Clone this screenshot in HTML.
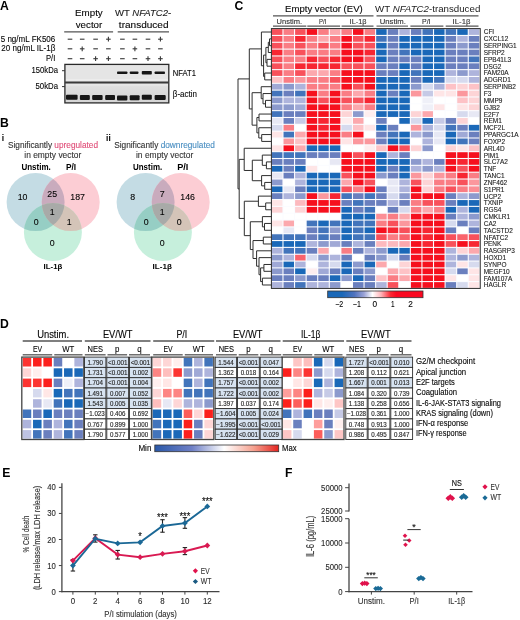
<!DOCTYPE html>
<html><head><meta charset="utf-8"><title>Figure</title>
<style>
html,body{margin:0;padding:0;background:#fff;}
body{width:520px;height:620px;overflow:hidden;}
svg{display:block;font-family:"Liberation Sans", sans-serif;will-change:transform;}
</style></head><body>
<svg width="520" height="620" viewBox="0 0 520 620">
<rect x="0" y="0" width="520" height="620" fill="#fff"/>
<text x="0.00" y="9.50" font-size="12.2" font-weight="bold" fill="#000">A</text>
<text x="88.90" y="16.20" font-size="9.5" text-anchor="middle" textLength="27.70" lengthAdjust="spacingAndGlyphs" stroke="#222" stroke-width="0.12">Empty</text>
<text x="89.00" y="28.10" font-size="9.5" text-anchor="middle" textLength="26.50" lengthAdjust="spacingAndGlyphs" stroke="#222" stroke-width="0.12">vector</text>
<text x="115" y="16.2" font-size="9.5" fill="#222" stroke="#222" stroke-width="0.12" textLength="56.2" lengthAdjust="spacingAndGlyphs">WT <tspan font-style="italic">NFATC2</tspan>-</text>
<text x="143.70" y="28.10" font-size="9.5" text-anchor="middle" textLength="49.70" lengthAdjust="spacingAndGlyphs" stroke="#222" stroke-width="0.12">transduced</text>
<line x1="64.20" y1="31.80" x2="113.10" y2="31.80" stroke="#555" stroke-width="1.2"/>
<line x1="117.70" y1="31.80" x2="169.00" y2="31.80" stroke="#555" stroke-width="1.2"/>
<text x="55.30" y="41.60" font-size="9.0" text-anchor="end" textLength="54.60" lengthAdjust="spacingAndGlyphs" stroke="#222" stroke-width="0.12">5 ng/mL FK506</text>
<text x="55.30" y="51.20" font-size="9.0" text-anchor="end" textLength="54.00" lengthAdjust="spacingAndGlyphs" stroke="#222" stroke-width="0.12">20 ng/mL IL-1β</text>
<text x="55.30" y="61.20" font-size="9.0" text-anchor="end" textLength="9.40" lengthAdjust="spacingAndGlyphs" stroke="#222" stroke-width="0.12">P/I</text>
<line x1="67.70" y1="39.20" x2="72.30" y2="39.20" stroke="#383838" stroke-width="1.1"/>
<line x1="79.90" y1="39.20" x2="84.50" y2="39.20" stroke="#383838" stroke-width="1.1"/>
<line x1="93.30" y1="39.20" x2="97.90" y2="39.20" stroke="#383838" stroke-width="1.1"/>
<line x1="106.10" y1="39.20" x2="110.70" y2="39.20" stroke="#383838" stroke-width="1.1"/>
<line x1="108.40" y1="36.80" x2="108.40" y2="41.60" stroke="#383838" stroke-width="1.1"/>
<line x1="120.10" y1="39.20" x2="124.70" y2="39.20" stroke="#383838" stroke-width="1.1"/>
<line x1="132.60" y1="39.20" x2="137.20" y2="39.20" stroke="#383838" stroke-width="1.1"/>
<line x1="145.70" y1="39.20" x2="150.30" y2="39.20" stroke="#383838" stroke-width="1.1"/>
<line x1="158.10" y1="39.20" x2="162.70" y2="39.20" stroke="#383838" stroke-width="1.1"/>
<line x1="160.40" y1="36.80" x2="160.40" y2="41.60" stroke="#383838" stroke-width="1.1"/>
<line x1="67.70" y1="48.80" x2="72.30" y2="48.80" stroke="#383838" stroke-width="1.1"/>
<line x1="79.90" y1="48.80" x2="84.50" y2="48.80" stroke="#383838" stroke-width="1.1"/>
<line x1="82.20" y1="46.40" x2="82.20" y2="51.20" stroke="#383838" stroke-width="1.1"/>
<line x1="93.30" y1="48.80" x2="97.90" y2="48.80" stroke="#383838" stroke-width="1.1"/>
<line x1="106.10" y1="48.80" x2="110.70" y2="48.80" stroke="#383838" stroke-width="1.1"/>
<line x1="120.10" y1="48.80" x2="124.70" y2="48.80" stroke="#383838" stroke-width="1.1"/>
<line x1="132.60" y1="48.80" x2="137.20" y2="48.80" stroke="#383838" stroke-width="1.1"/>
<line x1="134.90" y1="46.40" x2="134.90" y2="51.20" stroke="#383838" stroke-width="1.1"/>
<line x1="145.70" y1="48.80" x2="150.30" y2="48.80" stroke="#383838" stroke-width="1.1"/>
<line x1="158.10" y1="48.80" x2="162.70" y2="48.80" stroke="#383838" stroke-width="1.1"/>
<line x1="67.70" y1="58.70" x2="72.30" y2="58.70" stroke="#383838" stroke-width="1.1"/>
<line x1="79.90" y1="58.70" x2="84.50" y2="58.70" stroke="#383838" stroke-width="1.1"/>
<line x1="93.30" y1="58.70" x2="97.90" y2="58.70" stroke="#383838" stroke-width="1.1"/>
<line x1="95.60" y1="56.30" x2="95.60" y2="61.10" stroke="#383838" stroke-width="1.1"/>
<line x1="106.10" y1="58.70" x2="110.70" y2="58.70" stroke="#383838" stroke-width="1.1"/>
<line x1="108.40" y1="56.30" x2="108.40" y2="61.10" stroke="#383838" stroke-width="1.1"/>
<line x1="120.10" y1="58.70" x2="124.70" y2="58.70" stroke="#383838" stroke-width="1.1"/>
<line x1="132.60" y1="58.70" x2="137.20" y2="58.70" stroke="#383838" stroke-width="1.1"/>
<line x1="145.70" y1="58.70" x2="150.30" y2="58.70" stroke="#383838" stroke-width="1.1"/>
<line x1="148.00" y1="56.30" x2="148.00" y2="61.10" stroke="#383838" stroke-width="1.1"/>
<line x1="158.10" y1="58.70" x2="162.70" y2="58.70" stroke="#383838" stroke-width="1.1"/>
<line x1="160.40" y1="56.30" x2="160.40" y2="61.10" stroke="#383838" stroke-width="1.1"/>
<defs><filter id="bl" x="-20%" y="-50%" width="140%" height="200%"><feGaussianBlur stdDeviation="0.45"/></filter><linearGradient id="b2g" x1="0" x2="0" y1="0" y2="1"><stop offset="0" stop-color="#e2e2e2"/><stop offset="1" stop-color="#d4d4d4"/></linearGradient></defs>
<rect x="64.90" y="64.40" width="103.90" height="18.10" fill="#e5e5e5"/>
<rect x="64.90" y="82.50" width="103.90" height="20.40" fill="url(#b2g)"/>
<line x1="65.50" y1="79.90" x2="168.20" y2="79.90" stroke="#f1f1f1" stroke-width="1.0"/>
<line x1="65.50" y1="84.90" x2="168.20" y2="84.90" stroke="#ececec" stroke-width="1.0"/>
<rect x="64.90" y="64.40" width="103.90" height="38.50" fill="none" stroke="#2a2a2a" stroke-width="1.3"/>
<line x1="64.90" y1="82.50" x2="168.80" y2="82.50" stroke="#3a3a3a" stroke-width="2.0"/>
<g filter="url(#bl)">
<rect x="117.0" y="71.40" width="10.4" height="2.6" rx="0.8" fill="#151515"/>
<rect x="129.7" y="71.50" width="8.8" height="2.4" rx="0.8" fill="#151515"/>
<rect x="141.8" y="70.90" width="10.0" height="3.6" rx="0.8" fill="#151515"/>
<rect x="154.6" y="71.40" width="10.4" height="2.6" rx="0.8" fill="#151515"/>
<rect x="66.0" y="94.70" width="11.6" height="5.0" rx="1.0" fill="#141414"/>
<rect x="79.9" y="95.10" width="9.9" height="5.0" rx="1.0" fill="#141414"/>
<rect x="92.2" y="95.10" width="10.4" height="5.0" rx="1.0" fill="#141414"/>
<rect x="105.2" y="94.90" width="9.8" height="5.0" rx="1.0" fill="#141414"/>
<rect x="117.0" y="95.40" width="10.4" height="5.0" rx="1.0" fill="#141414"/>
<rect x="129.7" y="95.20" width="9.9" height="5.0" rx="1.0" fill="#141414"/>
<rect x="141.8" y="94.80" width="10.0" height="5.0" rx="1.0" fill="#141414"/>
<rect x="154.6" y="95.10" width="11.1" height="5.0" rx="1.0" fill="#141414"/>
</g>
<text x="58.00" y="72.90" font-size="8.4" text-anchor="end" textLength="26.40" lengthAdjust="spacingAndGlyphs" stroke="#222" stroke-width="0.12">150kDa</text>
<line x1="62.00" y1="70.70" x2="64.90" y2="70.70" stroke="#333" stroke-width="1.0"/>
<text x="58.00" y="88.50" font-size="8.4" text-anchor="end" textLength="22.50" lengthAdjust="spacingAndGlyphs" stroke="#222" stroke-width="0.12">50kDa</text>
<line x1="62.00" y1="86.60" x2="64.90" y2="86.60" stroke="#333" stroke-width="1.0"/>
<text x="172.80" y="75.80" font-size="8.4" textLength="23.20" lengthAdjust="spacingAndGlyphs" stroke="#222" stroke-width="0.12">NFAT1</text>
<text x="172.80" y="96.50" font-size="8.4" textLength="24.10" lengthAdjust="spacingAndGlyphs" stroke="#222" stroke-width="0.12">β-actin</text>
<text x="0.10" y="126.80" font-size="12.2" font-weight="bold" fill="#000">B</text>
<defs><clipPath id="vb0"><circle cx="35.6" cy="202.1" r="29.0"/></clipPath><clipPath id="vp0"><circle cx="70.7" cy="202.1" r="29.0"/></clipPath><clipPath id="vg0"><circle cx="52.9" cy="232.0" r="29.0"/></clipPath></defs>
<circle cx="35.6" cy="202.1" r="29.0" fill="#c4dce4"/>
<circle cx="70.7" cy="202.1" r="29.0" fill="#fccdd4"/>
<circle cx="52.9" cy="232.0" r="29.0" fill="#c6efdc"/>
<g clip-path="url(#vb0)"><circle cx="70.7" cy="202.1" r="29.0" fill="#c9abbd"/><circle cx="52.9" cy="232.0" r="29.0" fill="#96cec4"/></g>
<g clip-path="url(#vp0)"><circle cx="52.9" cy="232.0" r="29.0" fill="#d4c4b8"/></g>
<g clip-path="url(#vb0)"><g clip-path="url(#vp0)"><circle cx="52.9" cy="232.0" r="29.0" fill="#a8aaa8"/></g></g>
<text x="22.60" y="199.90" font-size="8.8" text-anchor="middle" stroke="#222" stroke-width="0.12">10</text>
<text x="52.20" y="197.00" font-size="8.8" text-anchor="middle" stroke="#222" stroke-width="0.12">25</text>
<text x="77.60" y="199.90" font-size="8.8" text-anchor="middle" stroke="#222" stroke-width="0.12">187</text>
<text x="52.20" y="214.80" font-size="8.8" text-anchor="middle" stroke="#222" stroke-width="0.12">1</text>
<text x="36.10" y="224.70" font-size="8.8" text-anchor="middle" stroke="#222" stroke-width="0.12">0</text>
<text x="69.10" y="224.70" font-size="8.8" text-anchor="middle" stroke="#222" stroke-width="0.12">1</text>
<text x="52.20" y="246.40" font-size="8.8" text-anchor="middle" stroke="#222" stroke-width="0.12">0</text>
<defs><clipPath id="vb1"><circle cx="145.6" cy="202.1" r="29.0"/></clipPath><clipPath id="vp1"><circle cx="180.7" cy="202.1" r="29.0"/></clipPath><clipPath id="vg1"><circle cx="162.9" cy="232.0" r="29.0"/></clipPath></defs>
<circle cx="145.6" cy="202.1" r="29.0" fill="#c4dce4"/>
<circle cx="180.7" cy="202.1" r="29.0" fill="#fccdd4"/>
<circle cx="162.9" cy="232.0" r="29.0" fill="#c6efdc"/>
<g clip-path="url(#vb1)"><circle cx="180.7" cy="202.1" r="29.0" fill="#c9abbd"/><circle cx="162.9" cy="232.0" r="29.0" fill="#96cec4"/></g>
<g clip-path="url(#vp1)"><circle cx="162.9" cy="232.0" r="29.0" fill="#d4c4b8"/></g>
<g clip-path="url(#vb1)"><g clip-path="url(#vp1)"><circle cx="162.9" cy="232.0" r="29.0" fill="#a8aaa8"/></g></g>
<text x="132.60" y="199.90" font-size="8.8" text-anchor="middle" stroke="#222" stroke-width="0.12">8</text>
<text x="162.20" y="197.00" font-size="8.8" text-anchor="middle" stroke="#222" stroke-width="0.12">7</text>
<text x="187.60" y="199.90" font-size="8.8" text-anchor="middle" stroke="#222" stroke-width="0.12">146</text>
<text x="162.20" y="214.80" font-size="8.8" text-anchor="middle" stroke="#222" stroke-width="0.12">1</text>
<text x="146.10" y="224.70" font-size="8.8" text-anchor="middle" stroke="#222" stroke-width="0.12">0</text>
<text x="179.10" y="224.70" font-size="8.8" text-anchor="middle" stroke="#222" stroke-width="0.12">0</text>
<text x="162.20" y="246.40" font-size="8.8" text-anchor="middle" stroke="#222" stroke-width="0.12">0</text>
<text x="1.80" y="141.00" font-size="8.5" font-weight="bold">i</text>
<text x="106.10" y="141.00" font-size="8.5" font-weight="bold" textLength="4.60" lengthAdjust="spacingAndGlyphs">ii</text>
<text x="8" y="148.1" font-size="9.0" fill="#333" stroke="#333" stroke-width="0.12" textLength="90" lengthAdjust="spacingAndGlyphs">Significantly <tspan fill="#e04d78" stroke="#e04d78">upregulated</tspan></text>
<text x="52.80" y="157.80" font-size="9.0" text-anchor="middle" fill="#333" textLength="57.00" lengthAdjust="spacingAndGlyphs" stroke="#333" stroke-width="0.12">in empty vector</text>
<text x="114.2" y="148.1" font-size="9.0" fill="#333" stroke="#333" stroke-width="0.12" textLength="100.7" lengthAdjust="spacingAndGlyphs">Significantly <tspan fill="#4a8fc2" stroke="#4a8fc2">downregulated</tspan></text>
<text x="164.60" y="157.80" font-size="9.0" text-anchor="middle" fill="#333" textLength="57.20" lengthAdjust="spacingAndGlyphs" stroke="#333" stroke-width="0.12">in empty vector</text>
<text x="21.40" y="169.60" font-size="8.4" font-weight="bold" textLength="29.40" lengthAdjust="spacingAndGlyphs">Unstim.</text>
<text x="66.00" y="169.60" font-size="8.4" font-weight="bold" textLength="10.20" lengthAdjust="spacingAndGlyphs">P/I</text>
<text x="133.00" y="169.60" font-size="8.4" font-weight="bold" textLength="29.20" lengthAdjust="spacingAndGlyphs">Unstim.</text>
<text x="177.20" y="169.60" font-size="8.4" font-weight="bold" textLength="11.20" lengthAdjust="spacingAndGlyphs">P/I</text>
<text x="43.60" y="269.30" font-size="7.9" font-weight="bold" textLength="18.80" lengthAdjust="spacingAndGlyphs">IL-1β</text>
<text x="152.60" y="269.30" font-size="7.9" font-weight="bold" textLength="19.40" lengthAdjust="spacingAndGlyphs">IL-1β</text>
<text x="234.40" y="9.60" font-size="12.2" font-weight="bold" fill="#000">C</text>
<text x="285.10" y="12.40" font-size="9.0" textLength="77.60" lengthAdjust="spacingAndGlyphs" stroke="#222" stroke-width="0.12">Empty vector (EV)</text>
<text x="375" y="12.4" font-size="9.0" fill="#222" textLength="105.3" lengthAdjust="spacingAndGlyphs">WT <tspan font-style="italic">NFATC2</tspan>-transduced</text>
<line x1="273.00" y1="15.90" x2="373.50" y2="15.90" stroke="#555" stroke-width="1.2"/>
<line x1="376.50" y1="15.90" x2="478.50" y2="15.90" stroke="#555" stroke-width="1.2"/>
<text x="276.60" y="23.60" font-size="7.0" fill="#333" textLength="25.40" lengthAdjust="spacingAndGlyphs" stroke="#333" stroke-width="0.12">Unstim.</text>
<text x="319.00" y="23.60" font-size="7.0" fill="#333" textLength="7.30" lengthAdjust="spacingAndGlyphs" stroke="#333" stroke-width="0.12">P/I</text>
<text x="349.60" y="23.60" font-size="7.0" fill="#333" textLength="16.90" lengthAdjust="spacingAndGlyphs" stroke="#333" stroke-width="0.12">IL-1β</text>
<text x="379.70" y="23.60" font-size="7.0" fill="#333" textLength="26.10" lengthAdjust="spacingAndGlyphs" stroke="#333" stroke-width="0.12">Unstim.</text>
<text x="422.00" y="23.60" font-size="7.0" fill="#333" textLength="8.50" lengthAdjust="spacingAndGlyphs" stroke="#333" stroke-width="0.12">P/I</text>
<text x="452.60" y="23.60" font-size="7.0" fill="#333" textLength="17.80" lengthAdjust="spacingAndGlyphs" stroke="#333" stroke-width="0.12">IL-1β</text>
<line x1="273.00" y1="26.10" x2="306.30" y2="26.10" stroke="#555" stroke-width="1.1"/>
<line x1="307.30" y1="26.10" x2="340.10" y2="26.10" stroke="#555" stroke-width="1.1"/>
<line x1="341.60" y1="26.10" x2="373.50" y2="26.10" stroke="#555" stroke-width="1.1"/>
<line x1="376.50" y1="26.10" x2="408.00" y2="26.10" stroke="#555" stroke-width="1.1"/>
<line x1="410.40" y1="26.10" x2="443.40" y2="26.10" stroke="#555" stroke-width="1.1"/>
<line x1="445.70" y1="26.10" x2="478.50" y2="26.10" stroke="#555" stroke-width="1.1"/>
<rect x="271.40" y="28.60" width="208.44" height="259.81" fill="#fbfcff"/>
<rect x="271.95" y="29.15" width="10.48" height="5.74" fill="#f8515b"/>
<rect x="283.53" y="29.15" width="10.48" height="5.74" fill="#fa7d84"/>
<rect x="295.11" y="29.15" width="10.48" height="5.74" fill="#f8515b"/>
<rect x="306.69" y="29.15" width="10.48" height="5.74" fill="#f6101e"/>
<rect x="318.27" y="29.15" width="10.48" height="5.74" fill="#fa7d84"/>
<rect x="329.85" y="29.15" width="10.48" height="5.74" fill="#fca8ad"/>
<rect x="341.43" y="29.15" width="10.48" height="5.74" fill="#fa7d84"/>
<rect x="353.01" y="29.15" width="10.48" height="5.74" fill="#f6101e"/>
<rect x="364.59" y="29.15" width="10.48" height="5.74" fill="#fa7d84"/>
<rect x="376.17" y="29.15" width="10.48" height="5.74" fill="#1a68b8"/>
<rect x="387.75" y="29.15" width="10.48" height="5.74" fill="#6a7fbe"/>
<rect x="399.33" y="29.15" width="10.48" height="5.74" fill="#aeb4dc"/>
<rect x="410.91" y="29.15" width="10.48" height="5.74" fill="#6a7fbe"/>
<rect x="422.49" y="29.15" width="10.48" height="5.74" fill="#4274bb"/>
<rect x="434.07" y="29.15" width="10.48" height="5.74" fill="#1a68b8"/>
<rect x="445.65" y="29.15" width="10.48" height="5.74" fill="#4274bb"/>
<rect x="457.23" y="29.15" width="10.48" height="5.74" fill="#1a68b8"/>
<rect x="468.81" y="29.15" width="10.48" height="5.74" fill="#aeb4dc"/>
<rect x="271.95" y="35.99" width="10.48" height="5.74" fill="#f8515b"/>
<rect x="283.53" y="35.99" width="10.48" height="5.74" fill="#fa7d84"/>
<rect x="295.11" y="35.99" width="10.48" height="5.74" fill="#f72632"/>
<rect x="306.69" y="35.99" width="10.48" height="5.74" fill="#fa7d84"/>
<rect x="318.27" y="35.99" width="10.48" height="5.74" fill="#fca8ad"/>
<rect x="329.85" y="35.99" width="10.48" height="5.74" fill="#fa7d84"/>
<rect x="341.43" y="35.99" width="10.48" height="5.74" fill="#f6101e"/>
<rect x="353.01" y="35.99" width="10.48" height="5.74" fill="#f8515b"/>
<rect x="364.59" y="35.99" width="10.48" height="5.74" fill="#f72632"/>
<rect x="376.17" y="35.99" width="10.48" height="5.74" fill="#4274bb"/>
<rect x="387.75" y="35.99" width="10.48" height="5.74" fill="#6a7fbe"/>
<rect x="399.33" y="35.99" width="10.48" height="5.74" fill="#1a68b8"/>
<rect x="410.91" y="35.99" width="10.48" height="5.74" fill="#1a68b8"/>
<rect x="422.49" y="35.99" width="10.48" height="5.74" fill="#1a68b8"/>
<rect x="434.07" y="35.99" width="10.48" height="5.74" fill="#1a68b8"/>
<rect x="445.65" y="35.99" width="10.48" height="5.74" fill="#6a7fbe"/>
<rect x="457.23" y="35.99" width="10.48" height="5.74" fill="#aeb4dc"/>
<rect x="468.81" y="35.99" width="10.48" height="5.74" fill="#6a7fbe"/>
<rect x="271.95" y="42.82" width="10.48" height="5.74" fill="#f8515b"/>
<rect x="283.53" y="42.82" width="10.48" height="5.74" fill="#fa7d84"/>
<rect x="295.11" y="42.82" width="10.48" height="5.74" fill="#f8515b"/>
<rect x="306.69" y="42.82" width="10.48" height="5.74" fill="#fa7d84"/>
<rect x="318.27" y="42.82" width="10.48" height="5.74" fill="#f8515b"/>
<rect x="329.85" y="42.82" width="10.48" height="5.74" fill="#fa7d84"/>
<rect x="341.43" y="42.82" width="10.48" height="5.74" fill="#f6101e"/>
<rect x="353.01" y="42.82" width="10.48" height="5.74" fill="#f8515b"/>
<rect x="364.59" y="42.82" width="10.48" height="5.74" fill="#f8515b"/>
<rect x="376.17" y="42.82" width="10.48" height="5.74" fill="#1a68b8"/>
<rect x="387.75" y="42.82" width="10.48" height="5.74" fill="#6a7fbe"/>
<rect x="399.33" y="42.82" width="10.48" height="5.74" fill="#1a68b8"/>
<rect x="410.91" y="42.82" width="10.48" height="5.74" fill="#1a68b8"/>
<rect x="422.49" y="42.82" width="10.48" height="5.74" fill="#1a68b8"/>
<rect x="434.07" y="42.82" width="10.48" height="5.74" fill="#1a68b8"/>
<rect x="445.65" y="42.82" width="10.48" height="5.74" fill="#6a7fbe"/>
<rect x="457.23" y="42.82" width="10.48" height="5.74" fill="#8c9acd"/>
<rect x="468.81" y="42.82" width="10.48" height="5.74" fill="#6a7fbe"/>
<rect x="271.95" y="49.66" width="10.48" height="5.74" fill="#f72632"/>
<rect x="283.53" y="49.66" width="10.48" height="5.74" fill="#fa7d84"/>
<rect x="295.11" y="49.66" width="10.48" height="5.74" fill="#f8515b"/>
<rect x="306.69" y="49.66" width="10.48" height="5.74" fill="#fa7d84"/>
<rect x="318.27" y="49.66" width="10.48" height="5.74" fill="#fa7d84"/>
<rect x="329.85" y="49.66" width="10.48" height="5.74" fill="#fa7d84"/>
<rect x="341.43" y="49.66" width="10.48" height="5.74" fill="#f6101e"/>
<rect x="353.01" y="49.66" width="10.48" height="5.74" fill="#f6101e"/>
<rect x="364.59" y="49.66" width="10.48" height="5.74" fill="#f72632"/>
<rect x="376.17" y="49.66" width="10.48" height="5.74" fill="#1a68b8"/>
<rect x="387.75" y="49.66" width="10.48" height="5.74" fill="#6a7fbe"/>
<rect x="399.33" y="49.66" width="10.48" height="5.74" fill="#4274bb"/>
<rect x="410.91" y="49.66" width="10.48" height="5.74" fill="#1a68b8"/>
<rect x="422.49" y="49.66" width="10.48" height="5.74" fill="#1a68b8"/>
<rect x="434.07" y="49.66" width="10.48" height="5.74" fill="#1a68b8"/>
<rect x="445.65" y="49.66" width="10.48" height="5.74" fill="#6a7fbe"/>
<rect x="457.23" y="49.66" width="10.48" height="5.74" fill="#6a7fbe"/>
<rect x="468.81" y="49.66" width="10.48" height="5.74" fill="#6a7fbe"/>
<rect x="271.95" y="56.50" width="10.48" height="5.74" fill="#f8515b"/>
<rect x="283.53" y="56.50" width="10.48" height="5.74" fill="#fa7d84"/>
<rect x="295.11" y="56.50" width="10.48" height="5.74" fill="#fa7d84"/>
<rect x="306.69" y="56.50" width="10.48" height="5.74" fill="#f72632"/>
<rect x="318.27" y="56.50" width="10.48" height="5.74" fill="#f8515b"/>
<rect x="329.85" y="56.50" width="10.48" height="5.74" fill="#f72632"/>
<rect x="341.43" y="56.50" width="10.48" height="5.74" fill="#f6101e"/>
<rect x="353.01" y="56.50" width="10.48" height="5.74" fill="#f6101e"/>
<rect x="364.59" y="56.50" width="10.48" height="5.74" fill="#f8515b"/>
<rect x="376.17" y="56.50" width="10.48" height="5.74" fill="#1a68b8"/>
<rect x="387.75" y="56.50" width="10.48" height="5.74" fill="#6a7fbe"/>
<rect x="399.33" y="56.50" width="10.48" height="5.74" fill="#6a7fbe"/>
<rect x="410.91" y="56.50" width="10.48" height="5.74" fill="#6a7fbe"/>
<rect x="422.49" y="56.50" width="10.48" height="5.74" fill="#1a68b8"/>
<rect x="434.07" y="56.50" width="10.48" height="5.74" fill="#1a68b8"/>
<rect x="445.65" y="56.50" width="10.48" height="5.74" fill="#6a7fbe"/>
<rect x="457.23" y="56.50" width="10.48" height="5.74" fill="#6a7fbe"/>
<rect x="468.81" y="56.50" width="10.48" height="5.74" fill="#4274bb"/>
<rect x="271.95" y="63.34" width="10.48" height="5.74" fill="#f8515b"/>
<rect x="283.53" y="63.34" width="10.48" height="5.74" fill="#fa7d84"/>
<rect x="295.11" y="63.34" width="10.48" height="5.74" fill="#f72632"/>
<rect x="306.69" y="63.34" width="10.48" height="5.74" fill="#f72632"/>
<rect x="318.27" y="63.34" width="10.48" height="5.74" fill="#f72632"/>
<rect x="329.85" y="63.34" width="10.48" height="5.74" fill="#f72632"/>
<rect x="341.43" y="63.34" width="10.48" height="5.74" fill="#f8515b"/>
<rect x="353.01" y="63.34" width="10.48" height="5.74" fill="#f8515b"/>
<rect x="364.59" y="63.34" width="10.48" height="5.74" fill="#f8515b"/>
<rect x="376.17" y="63.34" width="10.48" height="5.74" fill="#6a7fbe"/>
<rect x="387.75" y="63.34" width="10.48" height="5.74" fill="#6a7fbe"/>
<rect x="399.33" y="63.34" width="10.48" height="5.74" fill="#1a68b8"/>
<rect x="410.91" y="63.34" width="10.48" height="5.74" fill="#6a7fbe"/>
<rect x="422.49" y="63.34" width="10.48" height="5.74" fill="#1a68b8"/>
<rect x="434.07" y="63.34" width="10.48" height="5.74" fill="#1a68b8"/>
<rect x="445.65" y="63.34" width="10.48" height="5.74" fill="#6a7fbe"/>
<rect x="457.23" y="63.34" width="10.48" height="5.74" fill="#6a7fbe"/>
<rect x="468.81" y="63.34" width="10.48" height="5.74" fill="#6a7fbe"/>
<rect x="271.95" y="70.17" width="10.48" height="5.74" fill="#f8515b"/>
<rect x="283.53" y="70.17" width="10.48" height="5.74" fill="#fa7d84"/>
<rect x="295.11" y="70.17" width="10.48" height="5.74" fill="#f8515b"/>
<rect x="306.69" y="70.17" width="10.48" height="5.74" fill="#fca8ad"/>
<rect x="318.27" y="70.17" width="10.48" height="5.74" fill="#fca8ad"/>
<rect x="329.85" y="70.17" width="10.48" height="5.74" fill="#fa7d84"/>
<rect x="341.43" y="70.17" width="10.48" height="5.74" fill="#f6101e"/>
<rect x="353.01" y="70.17" width="10.48" height="5.74" fill="#f6101e"/>
<rect x="364.59" y="70.17" width="10.48" height="5.74" fill="#f6101e"/>
<rect x="376.17" y="70.17" width="10.48" height="5.74" fill="#6a7fbe"/>
<rect x="387.75" y="70.17" width="10.48" height="5.74" fill="#6a7fbe"/>
<rect x="399.33" y="70.17" width="10.48" height="5.74" fill="#1a68b8"/>
<rect x="410.91" y="70.17" width="10.48" height="5.74" fill="#4274bb"/>
<rect x="422.49" y="70.17" width="10.48" height="5.74" fill="#1a68b8"/>
<rect x="434.07" y="70.17" width="10.48" height="5.74" fill="#1a68b8"/>
<rect x="445.65" y="70.17" width="10.48" height="5.74" fill="#aeb4dc"/>
<rect x="457.23" y="70.17" width="10.48" height="5.74" fill="#8c9acd"/>
<rect x="468.81" y="70.17" width="10.48" height="5.74" fill="#aeb4dc"/>
<rect x="271.95" y="77.01" width="10.48" height="5.74" fill="#fdc2c6"/>
<rect x="283.53" y="77.01" width="10.48" height="5.74" fill="#fa7d84"/>
<rect x="295.11" y="77.01" width="10.48" height="5.74" fill="#fb979d"/>
<rect x="306.69" y="77.01" width="10.48" height="5.74" fill="#fa7d84"/>
<rect x="318.27" y="77.01" width="10.48" height="5.74" fill="#fa7d84"/>
<rect x="329.85" y="77.01" width="10.48" height="5.74" fill="#f8515b"/>
<rect x="341.43" y="77.01" width="10.48" height="5.74" fill="#f6101e"/>
<rect x="353.01" y="77.01" width="10.48" height="5.74" fill="#f6101e"/>
<rect x="364.59" y="77.01" width="10.48" height="5.74" fill="#f6101e"/>
<rect x="376.17" y="77.01" width="10.48" height="5.74" fill="#1a68b8"/>
<rect x="387.75" y="77.01" width="10.48" height="5.74" fill="#1a68b8"/>
<rect x="399.33" y="77.01" width="10.48" height="5.74" fill="#1a68b8"/>
<rect x="410.91" y="77.01" width="10.48" height="5.74" fill="#6a7fbe"/>
<rect x="422.49" y="77.01" width="10.48" height="5.74" fill="#1a68b8"/>
<rect x="434.07" y="77.01" width="10.48" height="5.74" fill="#4274bb"/>
<rect x="445.65" y="77.01" width="10.48" height="5.74" fill="#d6daee"/>
<rect x="457.23" y="77.01" width="10.48" height="5.74" fill="#d6daee"/>
<rect x="468.81" y="77.01" width="10.48" height="5.74" fill="#aeb4dc"/>
<rect x="271.95" y="83.85" width="10.48" height="5.74" fill="#a0a9d6"/>
<rect x="283.53" y="83.85" width="10.48" height="5.74" fill="#8c9acd"/>
<rect x="295.11" y="83.85" width="10.48" height="5.74" fill="#aeb4dc"/>
<rect x="306.69" y="83.85" width="10.48" height="5.74" fill="#fa7d84"/>
<rect x="318.27" y="83.85" width="10.48" height="5.74" fill="#fa7d84"/>
<rect x="329.85" y="83.85" width="10.48" height="5.74" fill="#fa7d84"/>
<rect x="341.43" y="83.85" width="10.48" height="5.74" fill="#f6101e"/>
<rect x="353.01" y="83.85" width="10.48" height="5.74" fill="#f8515b"/>
<rect x="364.59" y="83.85" width="10.48" height="5.74" fill="#f6101e"/>
<rect x="376.17" y="83.85" width="10.48" height="5.74" fill="#1a68b8"/>
<rect x="387.75" y="83.85" width="10.48" height="5.74" fill="#1a68b8"/>
<rect x="399.33" y="83.85" width="10.48" height="5.74" fill="#1a68b8"/>
<rect x="410.91" y="83.85" width="10.48" height="5.74" fill="#8c9acd"/>
<rect x="422.49" y="83.85" width="10.48" height="5.74" fill="#d6daee"/>
<rect x="434.07" y="83.85" width="10.48" height="5.74" fill="#aeb4dc"/>
<rect x="445.65" y="83.85" width="10.48" height="5.74" fill="#fdc2c6"/>
<rect x="457.23" y="83.85" width="10.48" height="5.74" fill="#fdd4d6"/>
<rect x="468.81" y="83.85" width="10.48" height="5.74" fill="#fdc2c6"/>
<rect x="271.95" y="90.68" width="10.48" height="5.74" fill="#4274bb"/>
<rect x="283.53" y="90.68" width="10.48" height="5.74" fill="#6a7fbe"/>
<rect x="295.11" y="90.68" width="10.48" height="5.74" fill="#4274bb"/>
<rect x="306.69" y="90.68" width="10.48" height="5.74" fill="#f6101e"/>
<rect x="318.27" y="90.68" width="10.48" height="5.74" fill="#fa7d84"/>
<rect x="329.85" y="90.68" width="10.48" height="5.74" fill="#f6101e"/>
<rect x="341.43" y="90.68" width="10.48" height="5.74" fill="#fa7d84"/>
<rect x="353.01" y="90.68" width="10.48" height="5.74" fill="#fca8ad"/>
<rect x="364.59" y="90.68" width="10.48" height="5.74" fill="#fa7d84"/>
<rect x="376.17" y="90.68" width="10.48" height="5.74" fill="#1a68b8"/>
<rect x="387.75" y="90.68" width="10.48" height="5.74" fill="#6a7fbe"/>
<rect x="399.33" y="90.68" width="10.48" height="5.74" fill="#1a68b8"/>
<rect x="410.91" y="90.68" width="10.48" height="5.74" fill="#fb979d"/>
<rect x="422.49" y="90.68" width="10.48" height="5.74" fill="#c6cae6"/>
<rect x="434.07" y="90.68" width="10.48" height="5.74" fill="#fee5e6"/>
<rect x="445.65" y="90.68" width="10.48" height="5.74" fill="#fee5e6"/>
<rect x="457.23" y="90.68" width="10.48" height="5.74" fill="#fb979d"/>
<rect x="468.81" y="90.68" width="10.48" height="5.74" fill="#fdd4d6"/>
<rect x="271.95" y="97.52" width="10.48" height="5.74" fill="#8c9acd"/>
<rect x="283.53" y="97.52" width="10.48" height="5.74" fill="#aeb4dc"/>
<rect x="295.11" y="97.52" width="10.48" height="5.74" fill="#aeb4dc"/>
<rect x="306.69" y="97.52" width="10.48" height="5.74" fill="#f6101e"/>
<rect x="318.27" y="97.52" width="10.48" height="5.74" fill="#f8515b"/>
<rect x="329.85" y="97.52" width="10.48" height="5.74" fill="#f6101e"/>
<rect x="341.43" y="97.52" width="10.48" height="5.74" fill="#f8515b"/>
<rect x="353.01" y="97.52" width="10.48" height="5.74" fill="#f8515b"/>
<rect x="364.59" y="97.52" width="10.48" height="5.74" fill="#f72632"/>
<rect x="376.17" y="97.52" width="10.48" height="5.74" fill="#1a68b8"/>
<rect x="387.75" y="97.52" width="10.48" height="5.74" fill="#1a68b8"/>
<rect x="399.33" y="97.52" width="10.48" height="5.74" fill="#1a68b8"/>
<rect x="410.91" y="97.52" width="10.48" height="5.74" fill="#ffffff"/>
<rect x="422.49" y="97.52" width="10.48" height="5.74" fill="#eff0f8"/>
<rect x="434.07" y="97.52" width="10.48" height="5.74" fill="#ffffff"/>
<rect x="445.65" y="97.52" width="10.48" height="5.74" fill="#ffffff"/>
<rect x="457.23" y="97.52" width="10.48" height="5.74" fill="#fdc2c6"/>
<rect x="468.81" y="97.52" width="10.48" height="5.74" fill="#fdd4d6"/>
<rect x="271.95" y="104.36" width="10.48" height="5.74" fill="#8c9acd"/>
<rect x="283.53" y="104.36" width="10.48" height="5.74" fill="#8c9acd"/>
<rect x="295.11" y="104.36" width="10.48" height="5.74" fill="#a0a9d6"/>
<rect x="306.69" y="104.36" width="10.48" height="5.74" fill="#f6101e"/>
<rect x="318.27" y="104.36" width="10.48" height="5.74" fill="#f6101e"/>
<rect x="329.85" y="104.36" width="10.48" height="5.74" fill="#f6101e"/>
<rect x="341.43" y="104.36" width="10.48" height="5.74" fill="#fa7d84"/>
<rect x="353.01" y="104.36" width="10.48" height="5.74" fill="#fca8ad"/>
<rect x="364.59" y="104.36" width="10.48" height="5.74" fill="#fa7d84"/>
<rect x="376.17" y="104.36" width="10.48" height="5.74" fill="#1a68b8"/>
<rect x="387.75" y="104.36" width="10.48" height="5.74" fill="#1a68b8"/>
<rect x="399.33" y="104.36" width="10.48" height="5.74" fill="#1a68b8"/>
<rect x="410.91" y="104.36" width="10.48" height="5.74" fill="#ffffff"/>
<rect x="422.49" y="104.36" width="10.48" height="5.74" fill="#eff0f8"/>
<rect x="434.07" y="104.36" width="10.48" height="5.74" fill="#fee5e6"/>
<rect x="445.65" y="104.36" width="10.48" height="5.74" fill="#ffffff"/>
<rect x="457.23" y="104.36" width="10.48" height="5.74" fill="#fee5e6"/>
<rect x="468.81" y="104.36" width="10.48" height="5.74" fill="#fdd4d6"/>
<rect x="271.95" y="111.19" width="10.48" height="5.74" fill="#4274bb"/>
<rect x="283.53" y="111.19" width="10.48" height="5.74" fill="#6a7fbe"/>
<rect x="295.11" y="111.19" width="10.48" height="5.74" fill="#6a7fbe"/>
<rect x="306.69" y="111.19" width="10.48" height="5.74" fill="#f6101e"/>
<rect x="318.27" y="111.19" width="10.48" height="5.74" fill="#f6101e"/>
<rect x="329.85" y="111.19" width="10.48" height="5.74" fill="#f6101e"/>
<rect x="341.43" y="111.19" width="10.48" height="5.74" fill="#fdd4d6"/>
<rect x="353.01" y="111.19" width="10.48" height="5.74" fill="#8c9acd"/>
<rect x="364.59" y="111.19" width="10.48" height="5.74" fill="#feeeef"/>
<rect x="376.17" y="111.19" width="10.48" height="5.74" fill="#1a68b8"/>
<rect x="387.75" y="111.19" width="10.48" height="5.74" fill="#1a68b8"/>
<rect x="399.33" y="111.19" width="10.48" height="5.74" fill="#1a68b8"/>
<rect x="410.91" y="111.19" width="10.48" height="5.74" fill="#fdd4d6"/>
<rect x="422.49" y="111.19" width="10.48" height="5.74" fill="#fca8ad"/>
<rect x="434.07" y="111.19" width="10.48" height="5.74" fill="#ffffff"/>
<rect x="445.65" y="111.19" width="10.48" height="5.74" fill="#ffffff"/>
<rect x="457.23" y="111.19" width="10.48" height="5.74" fill="#d6daee"/>
<rect x="468.81" y="111.19" width="10.48" height="5.74" fill="#e7e8f4"/>
<rect x="271.95" y="118.03" width="10.48" height="5.74" fill="#e7e8f4"/>
<rect x="283.53" y="118.03" width="10.48" height="5.74" fill="#6a7fbe"/>
<rect x="295.11" y="118.03" width="10.48" height="5.74" fill="#c6cae6"/>
<rect x="306.69" y="118.03" width="10.48" height="5.74" fill="#f6101e"/>
<rect x="318.27" y="118.03" width="10.48" height="5.74" fill="#f72632"/>
<rect x="329.85" y="118.03" width="10.48" height="5.74" fill="#f6101e"/>
<rect x="341.43" y="118.03" width="10.48" height="5.74" fill="#feeeef"/>
<rect x="353.01" y="118.03" width="10.48" height="5.74" fill="#fca8ad"/>
<rect x="364.59" y="118.03" width="10.48" height="5.74" fill="#ffffff"/>
<rect x="376.17" y="118.03" width="10.48" height="5.74" fill="#6a7fbe"/>
<rect x="387.75" y="118.03" width="10.48" height="5.74" fill="#ffffff"/>
<rect x="399.33" y="118.03" width="10.48" height="5.74" fill="#1a68b8"/>
<rect x="410.91" y="118.03" width="10.48" height="5.74" fill="#d6daee"/>
<rect x="422.49" y="118.03" width="10.48" height="5.74" fill="#1a68b8"/>
<rect x="434.07" y="118.03" width="10.48" height="5.74" fill="#c6cae6"/>
<rect x="445.65" y="118.03" width="10.48" height="5.74" fill="#6a7fbe"/>
<rect x="457.23" y="118.03" width="10.48" height="5.74" fill="#fdd4d6"/>
<rect x="468.81" y="118.03" width="10.48" height="5.74" fill="#ffffff"/>
<rect x="271.95" y="124.87" width="10.48" height="5.74" fill="#d6daee"/>
<rect x="283.53" y="124.87" width="10.48" height="5.74" fill="#fa7d84"/>
<rect x="295.11" y="124.87" width="10.48" height="5.74" fill="#ffffff"/>
<rect x="306.69" y="124.87" width="10.48" height="5.74" fill="#f6101e"/>
<rect x="318.27" y="124.87" width="10.48" height="5.74" fill="#f72632"/>
<rect x="329.85" y="124.87" width="10.48" height="5.74" fill="#f6101e"/>
<rect x="341.43" y="124.87" width="10.48" height="5.74" fill="#d6daee"/>
<rect x="353.01" y="124.87" width="10.48" height="5.74" fill="#fdc2c6"/>
<rect x="364.59" y="124.87" width="10.48" height="5.74" fill="#fee5e6"/>
<rect x="376.17" y="124.87" width="10.48" height="5.74" fill="#1a68b8"/>
<rect x="387.75" y="124.87" width="10.48" height="5.74" fill="#6a7fbe"/>
<rect x="399.33" y="124.87" width="10.48" height="5.74" fill="#ffffff"/>
<rect x="410.91" y="124.87" width="10.48" height="5.74" fill="#fb979d"/>
<rect x="422.49" y="124.87" width="10.48" height="5.74" fill="#aeb4dc"/>
<rect x="434.07" y="124.87" width="10.48" height="5.74" fill="#d6daee"/>
<rect x="445.65" y="124.87" width="10.48" height="5.74" fill="#4274bb"/>
<rect x="457.23" y="124.87" width="10.48" height="5.74" fill="#6a7fbe"/>
<rect x="468.81" y="124.87" width="10.48" height="5.74" fill="#1a68b8"/>
<rect x="271.95" y="131.71" width="10.48" height="5.74" fill="#fee5e6"/>
<rect x="283.53" y="131.71" width="10.48" height="5.74" fill="#4274bb"/>
<rect x="295.11" y="131.71" width="10.48" height="5.74" fill="#fca8ad"/>
<rect x="306.69" y="131.71" width="10.48" height="5.74" fill="#f6101e"/>
<rect x="318.27" y="131.71" width="10.48" height="5.74" fill="#f6101e"/>
<rect x="329.85" y="131.71" width="10.48" height="5.74" fill="#f6101e"/>
<rect x="341.43" y="131.71" width="10.48" height="5.74" fill="#fa7d84"/>
<rect x="353.01" y="131.71" width="10.48" height="5.74" fill="#f6101e"/>
<rect x="364.59" y="131.71" width="10.48" height="5.74" fill="#ffffff"/>
<rect x="376.17" y="131.71" width="10.48" height="5.74" fill="#6a7fbe"/>
<rect x="387.75" y="131.71" width="10.48" height="5.74" fill="#4274bb"/>
<rect x="399.33" y="131.71" width="10.48" height="5.74" fill="#1a68b8"/>
<rect x="410.91" y="131.71" width="10.48" height="5.74" fill="#aeb4dc"/>
<rect x="422.49" y="131.71" width="10.48" height="5.74" fill="#8c9acd"/>
<rect x="434.07" y="131.71" width="10.48" height="5.74" fill="#e7e8f4"/>
<rect x="445.65" y="131.71" width="10.48" height="5.74" fill="#1a68b8"/>
<rect x="457.23" y="131.71" width="10.48" height="5.74" fill="#a0a9d6"/>
<rect x="468.81" y="131.71" width="10.48" height="5.74" fill="#6a7fbe"/>
<rect x="271.95" y="138.54" width="10.48" height="5.74" fill="#ffffff"/>
<rect x="283.53" y="138.54" width="10.48" height="5.74" fill="#fb979d"/>
<rect x="295.11" y="138.54" width="10.48" height="5.74" fill="#fdc2c6"/>
<rect x="306.69" y="138.54" width="10.48" height="5.74" fill="#f6101e"/>
<rect x="318.27" y="138.54" width="10.48" height="5.74" fill="#f6101e"/>
<rect x="329.85" y="138.54" width="10.48" height="5.74" fill="#f6101e"/>
<rect x="341.43" y="138.54" width="10.48" height="5.74" fill="#fee5e6"/>
<rect x="353.01" y="138.54" width="10.48" height="5.74" fill="#fb979d"/>
<rect x="364.59" y="138.54" width="10.48" height="5.74" fill="#fb979d"/>
<rect x="376.17" y="138.54" width="10.48" height="5.74" fill="#6a7fbe"/>
<rect x="387.75" y="138.54" width="10.48" height="5.74" fill="#1a68b8"/>
<rect x="399.33" y="138.54" width="10.48" height="5.74" fill="#1a68b8"/>
<rect x="410.91" y="138.54" width="10.48" height="5.74" fill="#ffffff"/>
<rect x="422.49" y="138.54" width="10.48" height="5.74" fill="#aeb4dc"/>
<rect x="434.07" y="138.54" width="10.48" height="5.74" fill="#e7e8f4"/>
<rect x="445.65" y="138.54" width="10.48" height="5.74" fill="#1a68b8"/>
<rect x="457.23" y="138.54" width="10.48" height="5.74" fill="#4274bb"/>
<rect x="468.81" y="138.54" width="10.48" height="5.74" fill="#6a7fbe"/>
<rect x="271.95" y="145.38" width="10.48" height="5.74" fill="#fee5e6"/>
<rect x="283.53" y="145.38" width="10.48" height="5.74" fill="#f6101e"/>
<rect x="295.11" y="145.38" width="10.48" height="5.74" fill="#fca8ad"/>
<rect x="306.69" y="145.38" width="10.48" height="5.74" fill="#1a68b8"/>
<rect x="318.27" y="145.38" width="10.48" height="5.74" fill="#1a68b8"/>
<rect x="329.85" y="145.38" width="10.48" height="5.74" fill="#1a68b8"/>
<rect x="341.43" y="145.38" width="10.48" height="5.74" fill="#ffffff"/>
<rect x="353.01" y="145.38" width="10.48" height="5.74" fill="#ffffff"/>
<rect x="364.59" y="145.38" width="10.48" height="5.74" fill="#feeeef"/>
<rect x="376.17" y="145.38" width="10.48" height="5.74" fill="#fdc2c6"/>
<rect x="387.75" y="145.38" width="10.48" height="5.74" fill="#f6101e"/>
<rect x="399.33" y="145.38" width="10.48" height="5.74" fill="#f8515b"/>
<rect x="410.91" y="145.38" width="10.48" height="5.74" fill="#fdd4d6"/>
<rect x="422.49" y="145.38" width="10.48" height="5.74" fill="#8c9acd"/>
<rect x="434.07" y="145.38" width="10.48" height="5.74" fill="#ffffff"/>
<rect x="445.65" y="145.38" width="10.48" height="5.74" fill="#fdd4d6"/>
<rect x="457.23" y="145.38" width="10.48" height="5.74" fill="#fee5e6"/>
<rect x="468.81" y="145.38" width="10.48" height="5.74" fill="#fdc2c6"/>
<rect x="271.95" y="152.22" width="10.48" height="5.74" fill="#4274bb"/>
<rect x="283.53" y="152.22" width="10.48" height="5.74" fill="#4274bb"/>
<rect x="295.11" y="152.22" width="10.48" height="5.74" fill="#4274bb"/>
<rect x="306.69" y="152.22" width="10.48" height="5.74" fill="#6a7fbe"/>
<rect x="318.27" y="152.22" width="10.48" height="5.74" fill="#6a7fbe"/>
<rect x="329.85" y="152.22" width="10.48" height="5.74" fill="#6a7fbe"/>
<rect x="341.43" y="152.22" width="10.48" height="5.74" fill="#f6101e"/>
<rect x="353.01" y="152.22" width="10.48" height="5.74" fill="#f8515b"/>
<rect x="364.59" y="152.22" width="10.48" height="5.74" fill="#f6101e"/>
<rect x="376.17" y="152.22" width="10.48" height="5.74" fill="#1a68b8"/>
<rect x="387.75" y="152.22" width="10.48" height="5.74" fill="#aeb4dc"/>
<rect x="399.33" y="152.22" width="10.48" height="5.74" fill="#6a7fbe"/>
<rect x="410.91" y="152.22" width="10.48" height="5.74" fill="#ffffff"/>
<rect x="422.49" y="152.22" width="10.48" height="5.74" fill="#ffffff"/>
<rect x="434.07" y="152.22" width="10.48" height="5.74" fill="#ffffff"/>
<rect x="445.65" y="152.22" width="10.48" height="5.74" fill="#f6101e"/>
<rect x="457.23" y="152.22" width="10.48" height="5.74" fill="#f6101e"/>
<rect x="468.81" y="152.22" width="10.48" height="5.74" fill="#f6101e"/>
<rect x="271.95" y="159.05" width="10.48" height="5.74" fill="#6a7fbe"/>
<rect x="283.53" y="159.05" width="10.48" height="5.74" fill="#6a7fbe"/>
<rect x="295.11" y="159.05" width="10.48" height="5.74" fill="#6a7fbe"/>
<rect x="306.69" y="159.05" width="10.48" height="5.74" fill="#ffffff"/>
<rect x="318.27" y="159.05" width="10.48" height="5.74" fill="#ffffff"/>
<rect x="329.85" y="159.05" width="10.48" height="5.74" fill="#e7e8f4"/>
<rect x="341.43" y="159.05" width="10.48" height="5.74" fill="#f6101e"/>
<rect x="353.01" y="159.05" width="10.48" height="5.74" fill="#f6101e"/>
<rect x="364.59" y="159.05" width="10.48" height="5.74" fill="#f6101e"/>
<rect x="376.17" y="159.05" width="10.48" height="5.74" fill="#1a68b8"/>
<rect x="387.75" y="159.05" width="10.48" height="5.74" fill="#1a68b8"/>
<rect x="399.33" y="159.05" width="10.48" height="5.74" fill="#1a68b8"/>
<rect x="410.91" y="159.05" width="10.48" height="5.74" fill="#8c9acd"/>
<rect x="422.49" y="159.05" width="10.48" height="5.74" fill="#aeb4dc"/>
<rect x="434.07" y="159.05" width="10.48" height="5.74" fill="#6a7fbe"/>
<rect x="445.65" y="159.05" width="10.48" height="5.74" fill="#f6101e"/>
<rect x="457.23" y="159.05" width="10.48" height="5.74" fill="#f72632"/>
<rect x="468.81" y="159.05" width="10.48" height="5.74" fill="#f6101e"/>
<rect x="271.95" y="165.89" width="10.48" height="5.74" fill="#1a68b8"/>
<rect x="283.53" y="165.89" width="10.48" height="5.74" fill="#6a7fbe"/>
<rect x="295.11" y="165.89" width="10.48" height="5.74" fill="#1a68b8"/>
<rect x="306.69" y="165.89" width="10.48" height="5.74" fill="#fee5e6"/>
<rect x="318.27" y="165.89" width="10.48" height="5.74" fill="#ffffff"/>
<rect x="329.85" y="165.89" width="10.48" height="5.74" fill="#ffffff"/>
<rect x="341.43" y="165.89" width="10.48" height="5.74" fill="#f6101e"/>
<rect x="353.01" y="165.89" width="10.48" height="5.74" fill="#f6101e"/>
<rect x="364.59" y="165.89" width="10.48" height="5.74" fill="#f6101e"/>
<rect x="376.17" y="165.89" width="10.48" height="5.74" fill="#1a68b8"/>
<rect x="387.75" y="165.89" width="10.48" height="5.74" fill="#6a7fbe"/>
<rect x="399.33" y="165.89" width="10.48" height="5.74" fill="#1a68b8"/>
<rect x="410.91" y="165.89" width="10.48" height="5.74" fill="#aeb4dc"/>
<rect x="422.49" y="165.89" width="10.48" height="5.74" fill="#8c9acd"/>
<rect x="434.07" y="165.89" width="10.48" height="5.74" fill="#aeb4dc"/>
<rect x="445.65" y="165.89" width="10.48" height="5.74" fill="#f6101e"/>
<rect x="457.23" y="165.89" width="10.48" height="5.74" fill="#f8515b"/>
<rect x="468.81" y="165.89" width="10.48" height="5.74" fill="#f6101e"/>
<rect x="271.95" y="172.73" width="10.48" height="5.74" fill="#e7e8f4"/>
<rect x="283.53" y="172.73" width="10.48" height="5.74" fill="#6a7fbe"/>
<rect x="295.11" y="172.73" width="10.48" height="5.74" fill="#aeb4dc"/>
<rect x="306.69" y="172.73" width="10.48" height="5.74" fill="#1a68b8"/>
<rect x="318.27" y="172.73" width="10.48" height="5.74" fill="#1a68b8"/>
<rect x="329.85" y="172.73" width="10.48" height="5.74" fill="#1a68b8"/>
<rect x="341.43" y="172.73" width="10.48" height="5.74" fill="#f8515b"/>
<rect x="353.01" y="172.73" width="10.48" height="5.74" fill="#f6101e"/>
<rect x="364.59" y="172.73" width="10.48" height="5.74" fill="#f6101e"/>
<rect x="376.17" y="172.73" width="10.48" height="5.74" fill="#8c9acd"/>
<rect x="387.75" y="172.73" width="10.48" height="5.74" fill="#6a7fbe"/>
<rect x="399.33" y="172.73" width="10.48" height="5.74" fill="#1a68b8"/>
<rect x="410.91" y="172.73" width="10.48" height="5.74" fill="#fb979d"/>
<rect x="422.49" y="172.73" width="10.48" height="5.74" fill="#fdd4d6"/>
<rect x="434.07" y="172.73" width="10.48" height="5.74" fill="#fb979d"/>
<rect x="445.65" y="172.73" width="10.48" height="5.74" fill="#fa7d84"/>
<rect x="457.23" y="172.73" width="10.48" height="5.74" fill="#f72632"/>
<rect x="468.81" y="172.73" width="10.48" height="5.74" fill="#fa7d84"/>
<rect x="271.95" y="179.56" width="10.48" height="5.74" fill="#8c9acd"/>
<rect x="283.53" y="179.56" width="10.48" height="5.74" fill="#ffffff"/>
<rect x="295.11" y="179.56" width="10.48" height="5.74" fill="#aeb4dc"/>
<rect x="306.69" y="179.56" width="10.48" height="5.74" fill="#1a68b8"/>
<rect x="318.27" y="179.56" width="10.48" height="5.74" fill="#1a68b8"/>
<rect x="329.85" y="179.56" width="10.48" height="5.74" fill="#1a68b8"/>
<rect x="341.43" y="179.56" width="10.48" height="5.74" fill="#fca8ad"/>
<rect x="353.01" y="179.56" width="10.48" height="5.74" fill="#f6101e"/>
<rect x="364.59" y="179.56" width="10.48" height="5.74" fill="#f8515b"/>
<rect x="376.17" y="179.56" width="10.48" height="5.74" fill="#ffffff"/>
<rect x="387.75" y="179.56" width="10.48" height="5.74" fill="#e7e8f4"/>
<rect x="399.33" y="179.56" width="10.48" height="5.74" fill="#aeb4dc"/>
<rect x="410.91" y="179.56" width="10.48" height="5.74" fill="#f8515b"/>
<rect x="422.49" y="179.56" width="10.48" height="5.74" fill="#fdd4d6"/>
<rect x="434.07" y="179.56" width="10.48" height="5.74" fill="#fa7d84"/>
<rect x="445.65" y="179.56" width="10.48" height="5.74" fill="#fa7d84"/>
<rect x="457.23" y="179.56" width="10.48" height="5.74" fill="#f8515b"/>
<rect x="468.81" y="179.56" width="10.48" height="5.74" fill="#fb979d"/>
<rect x="271.95" y="186.40" width="10.48" height="5.74" fill="#1a68b8"/>
<rect x="283.53" y="186.40" width="10.48" height="5.74" fill="#e7e8f4"/>
<rect x="295.11" y="186.40" width="10.48" height="5.74" fill="#6a7fbe"/>
<rect x="306.69" y="186.40" width="10.48" height="5.74" fill="#1a68b8"/>
<rect x="318.27" y="186.40" width="10.48" height="5.74" fill="#1a68b8"/>
<rect x="329.85" y="186.40" width="10.48" height="5.74" fill="#1a68b8"/>
<rect x="341.43" y="186.40" width="10.48" height="5.74" fill="#f8515b"/>
<rect x="353.01" y="186.40" width="10.48" height="5.74" fill="#fa7d84"/>
<rect x="364.59" y="186.40" width="10.48" height="5.74" fill="#f6101e"/>
<rect x="376.17" y="186.40" width="10.48" height="5.74" fill="#6a7fbe"/>
<rect x="387.75" y="186.40" width="10.48" height="5.74" fill="#e7e8f4"/>
<rect x="399.33" y="186.40" width="10.48" height="5.74" fill="#aeb4dc"/>
<rect x="410.91" y="186.40" width="10.48" height="5.74" fill="#f6101e"/>
<rect x="422.49" y="186.40" width="10.48" height="5.74" fill="#fdd4d6"/>
<rect x="434.07" y="186.40" width="10.48" height="5.74" fill="#fa7d84"/>
<rect x="445.65" y="186.40" width="10.48" height="5.74" fill="#f8515b"/>
<rect x="457.23" y="186.40" width="10.48" height="5.74" fill="#fa7d84"/>
<rect x="468.81" y="186.40" width="10.48" height="5.74" fill="#fb8e95"/>
<rect x="271.95" y="193.24" width="10.48" height="5.74" fill="#6a7fbe"/>
<rect x="283.53" y="193.24" width="10.48" height="5.74" fill="#aeb4dc"/>
<rect x="295.11" y="193.24" width="10.48" height="5.74" fill="#8c9acd"/>
<rect x="306.69" y="193.24" width="10.48" height="5.74" fill="#f6101e"/>
<rect x="318.27" y="193.24" width="10.48" height="5.74" fill="#fb979d"/>
<rect x="329.85" y="193.24" width="10.48" height="5.74" fill="#f72632"/>
<rect x="341.43" y="193.24" width="10.48" height="5.74" fill="#4274bb"/>
<rect x="353.01" y="193.24" width="10.48" height="5.74" fill="#6a7fbe"/>
<rect x="364.59" y="193.24" width="10.48" height="5.74" fill="#4274bb"/>
<rect x="376.17" y="193.24" width="10.48" height="5.74" fill="#6a7fbe"/>
<rect x="387.75" y="193.24" width="10.48" height="5.74" fill="#d6daee"/>
<rect x="399.33" y="193.24" width="10.48" height="5.74" fill="#8c9acd"/>
<rect x="410.91" y="193.24" width="10.48" height="5.74" fill="#f6101e"/>
<rect x="422.49" y="193.24" width="10.48" height="5.74" fill="#f6101e"/>
<rect x="434.07" y="193.24" width="10.48" height="5.74" fill="#f6101e"/>
<rect x="445.65" y="193.24" width="10.48" height="5.74" fill="#6a7fbe"/>
<rect x="457.23" y="193.24" width="10.48" height="5.74" fill="#aeb4dc"/>
<rect x="468.81" y="193.24" width="10.48" height="5.74" fill="#8c9acd"/>
<rect x="271.95" y="200.07" width="10.48" height="5.74" fill="#fee5e6"/>
<rect x="283.53" y="200.07" width="10.48" height="5.74" fill="#ffffff"/>
<rect x="295.11" y="200.07" width="10.48" height="5.74" fill="#fcb9be"/>
<rect x="306.69" y="200.07" width="10.48" height="5.74" fill="#f6101e"/>
<rect x="318.27" y="200.07" width="10.48" height="5.74" fill="#f6101e"/>
<rect x="329.85" y="200.07" width="10.48" height="5.74" fill="#f6101e"/>
<rect x="341.43" y="200.07" width="10.48" height="5.74" fill="#6a7fbe"/>
<rect x="353.01" y="200.07" width="10.48" height="5.74" fill="#4274bb"/>
<rect x="364.59" y="200.07" width="10.48" height="5.74" fill="#6a7fbe"/>
<rect x="376.17" y="200.07" width="10.48" height="5.74" fill="#6a7fbe"/>
<rect x="387.75" y="200.07" width="10.48" height="5.74" fill="#aeb4dc"/>
<rect x="399.33" y="200.07" width="10.48" height="5.74" fill="#6a7fbe"/>
<rect x="410.91" y="200.07" width="10.48" height="5.74" fill="#fa7d84"/>
<rect x="422.49" y="200.07" width="10.48" height="5.74" fill="#f8515b"/>
<rect x="434.07" y="200.07" width="10.48" height="5.74" fill="#f8515b"/>
<rect x="445.65" y="200.07" width="10.48" height="5.74" fill="#6a7fbe"/>
<rect x="457.23" y="200.07" width="10.48" height="5.74" fill="#1a68b8"/>
<rect x="468.81" y="200.07" width="10.48" height="5.74" fill="#1a68b8"/>
<rect x="271.95" y="206.91" width="10.48" height="5.74" fill="#fdd4d6"/>
<rect x="283.53" y="206.91" width="10.48" height="5.74" fill="#ffffff"/>
<rect x="295.11" y="206.91" width="10.48" height="5.74" fill="#fdd4d6"/>
<rect x="306.69" y="206.91" width="10.48" height="5.74" fill="#f6101e"/>
<rect x="318.27" y="206.91" width="10.48" height="5.74" fill="#f6101e"/>
<rect x="329.85" y="206.91" width="10.48" height="5.74" fill="#f6101e"/>
<rect x="341.43" y="206.91" width="10.48" height="5.74" fill="#1a68b8"/>
<rect x="353.01" y="206.91" width="10.48" height="5.74" fill="#6a7fbe"/>
<rect x="364.59" y="206.91" width="10.48" height="5.74" fill="#4274bb"/>
<rect x="376.17" y="206.91" width="10.48" height="5.74" fill="#ffffff"/>
<rect x="387.75" y="206.91" width="10.48" height="5.74" fill="#6a7fbe"/>
<rect x="399.33" y="206.91" width="10.48" height="5.74" fill="#d6daee"/>
<rect x="410.91" y="206.91" width="10.48" height="5.74" fill="#fa7d84"/>
<rect x="422.49" y="206.91" width="10.48" height="5.74" fill="#fca8ad"/>
<rect x="434.07" y="206.91" width="10.48" height="5.74" fill="#fa7d84"/>
<rect x="445.65" y="206.91" width="10.48" height="5.74" fill="#1a68b8"/>
<rect x="457.23" y="206.91" width="10.48" height="5.74" fill="#aeb4dc"/>
<rect x="468.81" y="206.91" width="10.48" height="5.74" fill="#1a68b8"/>
<rect x="271.95" y="213.75" width="10.48" height="5.74" fill="#ffffff"/>
<rect x="283.53" y="213.75" width="10.48" height="5.74" fill="#ffffff"/>
<rect x="295.11" y="213.75" width="10.48" height="5.74" fill="#ffffff"/>
<rect x="306.69" y="213.75" width="10.48" height="5.74" fill="#ffffff"/>
<rect x="318.27" y="213.75" width="10.48" height="5.74" fill="#ffffff"/>
<rect x="329.85" y="213.75" width="10.48" height="5.74" fill="#ffffff"/>
<rect x="341.43" y="213.75" width="10.48" height="5.74" fill="#1a68b8"/>
<rect x="353.01" y="213.75" width="10.48" height="5.74" fill="#1a68b8"/>
<rect x="364.59" y="213.75" width="10.48" height="5.74" fill="#1a68b8"/>
<rect x="376.17" y="213.75" width="10.48" height="5.74" fill="#fb8e95"/>
<rect x="387.75" y="213.75" width="10.48" height="5.74" fill="#fa7d84"/>
<rect x="399.33" y="213.75" width="10.48" height="5.74" fill="#fca8ad"/>
<rect x="410.91" y="213.75" width="10.48" height="5.74" fill="#f6101e"/>
<rect x="422.49" y="213.75" width="10.48" height="5.74" fill="#f6101e"/>
<rect x="434.07" y="213.75" width="10.48" height="5.74" fill="#f6101e"/>
<rect x="445.65" y="213.75" width="10.48" height="5.74" fill="#6a7fbe"/>
<rect x="457.23" y="213.75" width="10.48" height="5.74" fill="#aeb4dc"/>
<rect x="468.81" y="213.75" width="10.48" height="5.74" fill="#8c9acd"/>
<rect x="271.95" y="220.59" width="10.48" height="5.74" fill="#fee5e6"/>
<rect x="283.53" y="220.59" width="10.48" height="5.74" fill="#fca8ad"/>
<rect x="295.11" y="220.59" width="10.48" height="5.74" fill="#ffffff"/>
<rect x="306.69" y="220.59" width="10.48" height="5.74" fill="#4274bb"/>
<rect x="318.27" y="220.59" width="10.48" height="5.74" fill="#1a68b8"/>
<rect x="329.85" y="220.59" width="10.48" height="5.74" fill="#4274bb"/>
<rect x="341.43" y="220.59" width="10.48" height="5.74" fill="#1a68b8"/>
<rect x="353.01" y="220.59" width="10.48" height="5.74" fill="#4274bb"/>
<rect x="364.59" y="220.59" width="10.48" height="5.74" fill="#4274bb"/>
<rect x="376.17" y="220.59" width="10.48" height="5.74" fill="#fa7d84"/>
<rect x="387.75" y="220.59" width="10.48" height="5.74" fill="#f8515b"/>
<rect x="399.33" y="220.59" width="10.48" height="5.74" fill="#fb979d"/>
<rect x="410.91" y="220.59" width="10.48" height="5.74" fill="#f6101e"/>
<rect x="422.49" y="220.59" width="10.48" height="5.74" fill="#f6101e"/>
<rect x="434.07" y="220.59" width="10.48" height="5.74" fill="#f6101e"/>
<rect x="445.65" y="220.59" width="10.48" height="5.74" fill="#d6daee"/>
<rect x="457.23" y="220.59" width="10.48" height="5.74" fill="#6a7fbe"/>
<rect x="468.81" y="220.59" width="10.48" height="5.74" fill="#aeb4dc"/>
<rect x="271.95" y="227.42" width="10.48" height="5.74" fill="#ffffff"/>
<rect x="283.53" y="227.42" width="10.48" height="5.74" fill="#e7e8f4"/>
<rect x="295.11" y="227.42" width="10.48" height="5.74" fill="#ffffff"/>
<rect x="306.69" y="227.42" width="10.48" height="5.74" fill="#6a7fbe"/>
<rect x="318.27" y="227.42" width="10.48" height="5.74" fill="#4274bb"/>
<rect x="329.85" y="227.42" width="10.48" height="5.74" fill="#8c9acd"/>
<rect x="341.43" y="227.42" width="10.48" height="5.74" fill="#1a68b8"/>
<rect x="353.01" y="227.42" width="10.48" height="5.74" fill="#4274bb"/>
<rect x="364.59" y="227.42" width="10.48" height="5.74" fill="#1a68b8"/>
<rect x="376.17" y="227.42" width="10.48" height="5.74" fill="#f6101e"/>
<rect x="387.75" y="227.42" width="10.48" height="5.74" fill="#f72632"/>
<rect x="399.33" y="227.42" width="10.48" height="5.74" fill="#f8515b"/>
<rect x="410.91" y="227.42" width="10.48" height="5.74" fill="#f6101e"/>
<rect x="422.49" y="227.42" width="10.48" height="5.74" fill="#f72632"/>
<rect x="434.07" y="227.42" width="10.48" height="5.74" fill="#f6101e"/>
<rect x="445.65" y="227.42" width="10.48" height="5.74" fill="#6a7fbe"/>
<rect x="457.23" y="227.42" width="10.48" height="5.74" fill="#ffffff"/>
<rect x="468.81" y="227.42" width="10.48" height="5.74" fill="#6a7fbe"/>
<rect x="271.95" y="234.26" width="10.48" height="5.74" fill="#4274bb"/>
<rect x="283.53" y="234.26" width="10.48" height="5.74" fill="#4274bb"/>
<rect x="295.11" y="234.26" width="10.48" height="5.74" fill="#4274bb"/>
<rect x="306.69" y="234.26" width="10.48" height="5.74" fill="#6a7fbe"/>
<rect x="318.27" y="234.26" width="10.48" height="5.74" fill="#4274bb"/>
<rect x="329.85" y="234.26" width="10.48" height="5.74" fill="#6a7fbe"/>
<rect x="341.43" y="234.26" width="10.48" height="5.74" fill="#1a68b8"/>
<rect x="353.01" y="234.26" width="10.48" height="5.74" fill="#4274bb"/>
<rect x="364.59" y="234.26" width="10.48" height="5.74" fill="#4274bb"/>
<rect x="376.17" y="234.26" width="10.48" height="5.74" fill="#f8515b"/>
<rect x="387.75" y="234.26" width="10.48" height="5.74" fill="#fa7d84"/>
<rect x="399.33" y="234.26" width="10.48" height="5.74" fill="#f9636c"/>
<rect x="410.91" y="234.26" width="10.48" height="5.74" fill="#f6101e"/>
<rect x="422.49" y="234.26" width="10.48" height="5.74" fill="#f72632"/>
<rect x="434.07" y="234.26" width="10.48" height="5.74" fill="#f6101e"/>
<rect x="445.65" y="234.26" width="10.48" height="5.74" fill="#f8515b"/>
<rect x="457.23" y="234.26" width="10.48" height="5.74" fill="#f9636c"/>
<rect x="468.81" y="234.26" width="10.48" height="5.74" fill="#f8515b"/>
<rect x="271.95" y="241.10" width="10.48" height="5.74" fill="#1a68b8"/>
<rect x="283.53" y="241.10" width="10.48" height="5.74" fill="#1a68b8"/>
<rect x="295.11" y="241.10" width="10.48" height="5.74" fill="#1a68b8"/>
<rect x="306.69" y="241.10" width="10.48" height="5.74" fill="#aeb4dc"/>
<rect x="318.27" y="241.10" width="10.48" height="5.74" fill="#8c9acd"/>
<rect x="329.85" y="241.10" width="10.48" height="5.74" fill="#a0a9d6"/>
<rect x="341.43" y="241.10" width="10.48" height="5.74" fill="#6a7fbe"/>
<rect x="353.01" y="241.10" width="10.48" height="5.74" fill="#aeb4dc"/>
<rect x="364.59" y="241.10" width="10.48" height="5.74" fill="#6a7fbe"/>
<rect x="376.17" y="241.10" width="10.48" height="5.74" fill="#fcb9be"/>
<rect x="387.75" y="241.10" width="10.48" height="5.74" fill="#fcb9be"/>
<rect x="399.33" y="241.10" width="10.48" height="5.74" fill="#fca8ad"/>
<rect x="410.91" y="241.10" width="10.48" height="5.74" fill="#f6101e"/>
<rect x="422.49" y="241.10" width="10.48" height="5.74" fill="#f72632"/>
<rect x="434.07" y="241.10" width="10.48" height="5.74" fill="#f6101e"/>
<rect x="445.65" y="241.10" width="10.48" height="5.74" fill="#f8515b"/>
<rect x="457.23" y="241.10" width="10.48" height="5.74" fill="#f6101e"/>
<rect x="468.81" y="241.10" width="10.48" height="5.74" fill="#f72632"/>
<rect x="271.95" y="247.93" width="10.48" height="5.74" fill="#aeb4dc"/>
<rect x="283.53" y="247.93" width="10.48" height="5.74" fill="#4274bb"/>
<rect x="295.11" y="247.93" width="10.48" height="5.74" fill="#4274bb"/>
<rect x="306.69" y="247.93" width="10.48" height="5.74" fill="#6a7fbe"/>
<rect x="318.27" y="247.93" width="10.48" height="5.74" fill="#fca8ad"/>
<rect x="329.85" y="247.93" width="10.48" height="5.74" fill="#ffffff"/>
<rect x="341.43" y="247.93" width="10.48" height="5.74" fill="#fa7d84"/>
<rect x="353.01" y="247.93" width="10.48" height="5.74" fill="#6a7fbe"/>
<rect x="364.59" y="247.93" width="10.48" height="5.74" fill="#aeb4dc"/>
<rect x="376.17" y="247.93" width="10.48" height="5.74" fill="#8c9acd"/>
<rect x="387.75" y="247.93" width="10.48" height="5.74" fill="#1a68b8"/>
<rect x="399.33" y="247.93" width="10.48" height="5.74" fill="#1a68b8"/>
<rect x="410.91" y="247.93" width="10.48" height="5.74" fill="#f6101e"/>
<rect x="422.49" y="247.93" width="10.48" height="5.74" fill="#f6101e"/>
<rect x="434.07" y="247.93" width="10.48" height="5.74" fill="#f6101e"/>
<rect x="445.65" y="247.93" width="10.48" height="5.74" fill="#aeb4dc"/>
<rect x="457.23" y="247.93" width="10.48" height="5.74" fill="#fdd4d6"/>
<rect x="468.81" y="247.93" width="10.48" height="5.74" fill="#fca8ad"/>
<rect x="271.95" y="254.77" width="10.48" height="5.74" fill="#8c9acd"/>
<rect x="283.53" y="254.77" width="10.48" height="5.74" fill="#aeb4dc"/>
<rect x="295.11" y="254.77" width="10.48" height="5.74" fill="#f9636c"/>
<rect x="306.69" y="254.77" width="10.48" height="5.74" fill="#d6daee"/>
<rect x="318.27" y="254.77" width="10.48" height="5.74" fill="#8c9acd"/>
<rect x="329.85" y="254.77" width="10.48" height="5.74" fill="#aeb4dc"/>
<rect x="341.43" y="254.77" width="10.48" height="5.74" fill="#6a7fbe"/>
<rect x="353.01" y="254.77" width="10.48" height="5.74" fill="#ffffff"/>
<rect x="364.59" y="254.77" width="10.48" height="5.74" fill="#6a7fbe"/>
<rect x="376.17" y="254.77" width="10.48" height="5.74" fill="#8c9acd"/>
<rect x="387.75" y="254.77" width="10.48" height="5.74" fill="#d6daee"/>
<rect x="399.33" y="254.77" width="10.48" height="5.74" fill="#6a7fbe"/>
<rect x="410.91" y="254.77" width="10.48" height="5.74" fill="#f6101e"/>
<rect x="422.49" y="254.77" width="10.48" height="5.74" fill="#f6101e"/>
<rect x="434.07" y="254.77" width="10.48" height="5.74" fill="#f6101e"/>
<rect x="445.65" y="254.77" width="10.48" height="5.74" fill="#aeb4dc"/>
<rect x="457.23" y="254.77" width="10.48" height="5.74" fill="#8c9acd"/>
<rect x="468.81" y="254.77" width="10.48" height="5.74" fill="#aeb4dc"/>
<rect x="271.95" y="261.61" width="10.48" height="5.74" fill="#a0a9d6"/>
<rect x="283.53" y="261.61" width="10.48" height="5.74" fill="#1a68b8"/>
<rect x="295.11" y="261.61" width="10.48" height="5.74" fill="#aeb4dc"/>
<rect x="306.69" y="261.61" width="10.48" height="5.74" fill="#ffffff"/>
<rect x="318.27" y="261.61" width="10.48" height="5.74" fill="#aeb4dc"/>
<rect x="329.85" y="261.61" width="10.48" height="5.74" fill="#d6daee"/>
<rect x="341.43" y="261.61" width="10.48" height="5.74" fill="#1a68b8"/>
<rect x="353.01" y="261.61" width="10.48" height="5.74" fill="#8c9acd"/>
<rect x="364.59" y="261.61" width="10.48" height="5.74" fill="#1a68b8"/>
<rect x="376.17" y="261.61" width="10.48" height="5.74" fill="#fca8ad"/>
<rect x="387.75" y="261.61" width="10.48" height="5.74" fill="#ffffff"/>
<rect x="399.33" y="261.61" width="10.48" height="5.74" fill="#fdd4d6"/>
<rect x="410.91" y="261.61" width="10.48" height="5.74" fill="#f6101e"/>
<rect x="422.49" y="261.61" width="10.48" height="5.74" fill="#f6101e"/>
<rect x="434.07" y="261.61" width="10.48" height="5.74" fill="#f6101e"/>
<rect x="445.65" y="261.61" width="10.48" height="5.74" fill="#aeb4dc"/>
<rect x="457.23" y="261.61" width="10.48" height="5.74" fill="#fee5e6"/>
<rect x="468.81" y="261.61" width="10.48" height="5.74" fill="#d6daee"/>
<rect x="271.95" y="268.44" width="10.48" height="5.74" fill="#8c9acd"/>
<rect x="283.53" y="268.44" width="10.48" height="5.74" fill="#6a7fbe"/>
<rect x="295.11" y="268.44" width="10.48" height="5.74" fill="#1a68b8"/>
<rect x="306.69" y="268.44" width="10.48" height="5.74" fill="#feeeef"/>
<rect x="318.27" y="268.44" width="10.48" height="5.74" fill="#a0a9d6"/>
<rect x="329.85" y="268.44" width="10.48" height="5.74" fill="#6a7fbe"/>
<rect x="341.43" y="268.44" width="10.48" height="5.74" fill="#1a68b8"/>
<rect x="353.01" y="268.44" width="10.48" height="5.74" fill="#6a7fbe"/>
<rect x="364.59" y="268.44" width="10.48" height="5.74" fill="#8c9acd"/>
<rect x="376.17" y="268.44" width="10.48" height="5.74" fill="#ffffff"/>
<rect x="387.75" y="268.44" width="10.48" height="5.74" fill="#fca8ad"/>
<rect x="399.33" y="268.44" width="10.48" height="5.74" fill="#fdc2c6"/>
<rect x="410.91" y="268.44" width="10.48" height="5.74" fill="#f6101e"/>
<rect x="422.49" y="268.44" width="10.48" height="5.74" fill="#f6101e"/>
<rect x="434.07" y="268.44" width="10.48" height="5.74" fill="#f6101e"/>
<rect x="445.65" y="268.44" width="10.48" height="5.74" fill="#d6daee"/>
<rect x="457.23" y="268.44" width="10.48" height="5.74" fill="#6a7fbe"/>
<rect x="468.81" y="268.44" width="10.48" height="5.74" fill="#fee5e6"/>
<rect x="271.95" y="275.28" width="10.48" height="5.74" fill="#6a7fbe"/>
<rect x="283.53" y="275.28" width="10.48" height="5.74" fill="#6a7fbe"/>
<rect x="295.11" y="275.28" width="10.48" height="5.74" fill="#8c9acd"/>
<rect x="306.69" y="275.28" width="10.48" height="5.74" fill="#6a7fbe"/>
<rect x="318.27" y="275.28" width="10.48" height="5.74" fill="#6a7fbe"/>
<rect x="329.85" y="275.28" width="10.48" height="5.74" fill="#1a68b8"/>
<rect x="341.43" y="275.28" width="10.48" height="5.74" fill="#8c9acd"/>
<rect x="353.01" y="275.28" width="10.48" height="5.74" fill="#1a68b8"/>
<rect x="364.59" y="275.28" width="10.48" height="5.74" fill="#6a7fbe"/>
<rect x="376.17" y="275.28" width="10.48" height="5.74" fill="#fdc2c6"/>
<rect x="387.75" y="275.28" width="10.48" height="5.74" fill="#fa7d84"/>
<rect x="399.33" y="275.28" width="10.48" height="5.74" fill="#fca8ad"/>
<rect x="410.91" y="275.28" width="10.48" height="5.74" fill="#f6101e"/>
<rect x="422.49" y="275.28" width="10.48" height="5.74" fill="#f6101e"/>
<rect x="434.07" y="275.28" width="10.48" height="5.74" fill="#f6101e"/>
<rect x="445.65" y="275.28" width="10.48" height="5.74" fill="#fee5e6"/>
<rect x="457.23" y="275.28" width="10.48" height="5.74" fill="#ffffff"/>
<rect x="468.81" y="275.28" width="10.48" height="5.74" fill="#fee5e6"/>
<rect x="271.95" y="282.12" width="10.48" height="5.74" fill="#aeb4dc"/>
<rect x="283.53" y="282.12" width="10.48" height="5.74" fill="#6a7fbe"/>
<rect x="295.11" y="282.12" width="10.48" height="5.74" fill="#4274bb"/>
<rect x="306.69" y="282.12" width="10.48" height="5.74" fill="#aeb4dc"/>
<rect x="318.27" y="282.12" width="10.48" height="5.74" fill="#aeb4dc"/>
<rect x="329.85" y="282.12" width="10.48" height="5.74" fill="#8c9acd"/>
<rect x="341.43" y="282.12" width="10.48" height="5.74" fill="#ffffff"/>
<rect x="353.01" y="282.12" width="10.48" height="5.74" fill="#6a7fbe"/>
<rect x="364.59" y="282.12" width="10.48" height="5.74" fill="#6a7fbe"/>
<rect x="376.17" y="282.12" width="10.48" height="5.74" fill="#aeb4dc"/>
<rect x="387.75" y="282.12" width="10.48" height="5.74" fill="#f8515b"/>
<rect x="399.33" y="282.12" width="10.48" height="5.74" fill="#ffffff"/>
<rect x="410.91" y="282.12" width="10.48" height="5.74" fill="#f6101e"/>
<rect x="422.49" y="282.12" width="10.48" height="5.74" fill="#f6101e"/>
<rect x="434.07" y="282.12" width="10.48" height="5.74" fill="#f6101e"/>
<rect x="445.65" y="282.12" width="10.48" height="5.74" fill="#6a7fbe"/>
<rect x="457.23" y="282.12" width="10.48" height="5.74" fill="#d6daee"/>
<rect x="468.81" y="282.12" width="10.48" height="5.74" fill="#fee5e6"/>
<rect x="271.40" y="28.60" width="208.84" height="259.81" fill="none" stroke="#2a2a2a" stroke-width="1.0"/>
<text transform="translate(483.7 34.47) scale(0.93 1)" font-size="7.0" fill="#222" stroke="#222" stroke-width="0.12">CFI</text>
<text transform="translate(483.7 41.31) scale(0.93 1)" font-size="7.0" fill="#222" stroke="#222" stroke-width="0.12">CXCL12</text>
<text transform="translate(483.7 48.14) scale(0.93 1)" font-size="7.0" fill="#222" stroke="#222" stroke-width="0.12">SERPING1</text>
<text transform="translate(483.7 54.98) scale(0.93 1)" font-size="7.0" fill="#222" stroke="#222" stroke-width="0.12">SFRP2</text>
<text transform="translate(483.7 61.82) scale(0.93 1)" font-size="7.0" fill="#222" stroke="#222" stroke-width="0.12">EPB41L3</text>
<text transform="translate(483.7 68.65) scale(0.93 1)" font-size="7.0" fill="#222" stroke="#222" stroke-width="0.12">DSG2</text>
<text transform="translate(483.7 75.49) scale(0.93 1)" font-size="7.0" fill="#222" stroke="#222" stroke-width="0.12">FAM20A</text>
<text transform="translate(483.7 82.33) scale(0.93 1)" font-size="7.0" fill="#222" stroke="#222" stroke-width="0.12">ADGRD1</text>
<text transform="translate(483.7 89.16) scale(0.93 1)" font-size="7.0" fill="#222" stroke="#222" stroke-width="0.12">SERPINB2</text>
<text transform="translate(483.7 96.00) scale(0.93 1)" font-size="7.0" fill="#222" stroke="#222" stroke-width="0.12">F3</text>
<text transform="translate(483.7 102.84) scale(0.93 1)" font-size="7.0" fill="#222" stroke="#222" stroke-width="0.12">MMP9</text>
<text transform="translate(483.7 109.68) scale(0.93 1)" font-size="7.0" fill="#222" stroke="#222" stroke-width="0.12">GJB2</text>
<text transform="translate(483.7 116.51) scale(0.93 1)" font-size="7.0" fill="#222" stroke="#222" stroke-width="0.12">E2F7</text>
<text transform="translate(483.7 123.35) scale(0.93 1)" font-size="7.0" fill="#222" stroke="#222" stroke-width="0.12">REM1</text>
<text transform="translate(483.7 130.19) scale(0.93 1)" font-size="7.0" fill="#222" stroke="#222" stroke-width="0.12">MCF2L</text>
<text transform="translate(483.7 137.02) scale(0.93 1)" font-size="7.0" fill="#222" stroke="#222" stroke-width="0.12">PPARGC1A</text>
<text transform="translate(483.7 143.86) scale(0.93 1)" font-size="7.0" fill="#222" stroke="#222" stroke-width="0.12">FOXP2</text>
<text transform="translate(483.7 150.70) scale(0.93 1)" font-size="7.0" fill="#222" stroke="#222" stroke-width="0.12">ARL4D</text>
<text transform="translate(483.7 157.53) scale(0.93 1)" font-size="7.0" fill="#222" stroke="#222" stroke-width="0.12">PIM1</text>
<text transform="translate(483.7 164.37) scale(0.93 1)" font-size="7.0" fill="#222" stroke="#222" stroke-width="0.12">SLC7A2</text>
<text transform="translate(483.7 171.21) scale(0.93 1)" font-size="7.0" fill="#222" stroke="#222" stroke-width="0.12">TNF</text>
<text transform="translate(483.7 178.05) scale(0.93 1)" font-size="7.0" fill="#222" stroke="#222" stroke-width="0.12">TANC1</text>
<text transform="translate(483.7 184.88) scale(0.93 1)" font-size="7.0" fill="#222" stroke="#222" stroke-width="0.12">ZNF462</text>
<text transform="translate(483.7 191.72) scale(0.93 1)" font-size="7.0" fill="#222" stroke="#222" stroke-width="0.12">S1PR1</text>
<text transform="translate(483.7 198.56) scale(0.93 1)" font-size="7.0" fill="#222" stroke="#222" stroke-width="0.12">UCP2</text>
<text transform="translate(483.7 205.39) scale(0.93 1)" font-size="7.0" fill="#222" stroke="#222" stroke-width="0.12">TXNIP</text>
<text transform="translate(483.7 212.23) scale(0.93 1)" font-size="7.0" fill="#222" stroke="#222" stroke-width="0.12">RGS4</text>
<text transform="translate(483.7 219.07) scale(0.93 1)" font-size="7.0" fill="#222" stroke="#222" stroke-width="0.12">CMKLR1</text>
<text transform="translate(483.7 225.90) scale(0.93 1)" font-size="7.0" fill="#222" stroke="#222" stroke-width="0.12">CA2</text>
<text transform="translate(483.7 232.74) scale(0.93 1)" font-size="7.0" fill="#222" stroke="#222" stroke-width="0.12">TACSTD2</text>
<text transform="translate(483.7 239.58) scale(0.93 1)" font-size="7.0" fill="#222" stroke="#222" stroke-width="0.12">NFATC2</text>
<text transform="translate(483.7 246.42) scale(0.93 1)" font-size="7.0" fill="#222" stroke="#222" stroke-width="0.12">PENK</text>
<text transform="translate(483.7 253.25) scale(0.93 1)" font-size="7.0" fill="#222" stroke="#222" stroke-width="0.12">RASGRP3</text>
<text transform="translate(483.7 260.09) scale(0.93 1)" font-size="7.0" fill="#222" stroke="#222" stroke-width="0.12">HOXD1</text>
<text transform="translate(483.7 266.93) scale(0.93 1)" font-size="7.0" fill="#222" stroke="#222" stroke-width="0.12">SYNPO</text>
<text transform="translate(483.7 273.76) scale(0.93 1)" font-size="7.0" fill="#222" stroke="#222" stroke-width="0.12">MEGF10</text>
<text transform="translate(483.7 280.60) scale(0.93 1)" font-size="7.0" fill="#222" stroke="#222" stroke-width="0.12">FAM107A</text>
<text transform="translate(483.7 287.44) scale(0.93 1)" font-size="7.0" fill="#222" stroke="#222" stroke-width="0.12">HAGLR</text>
<path d="M238.00,133.91H238.00 M238.00,78.92V188.90 M238.00,78.92H249.30 M249.30,48.90V108.93 M249.30,48.90H261.40 M261.40,32.02V65.78 M261.40,32.02H271.40 M261.40,65.78H263.60 M263.60,55.09V76.46 M263.60,55.09H265.90 M265.90,47.40V62.78 M265.90,47.40H268.30 M268.30,42.27V52.53 M268.30,42.27H269.50 M269.50,38.86V45.69 M269.50,38.86H271.40 M269.50,45.69H271.40 M268.30,52.53H271.40 M265.90,62.78H267.00 M267.00,59.37V66.20 M267.00,59.37H271.40 M267.00,66.20H271.40 M263.60,76.46H264.70 M264.70,73.04V79.88 M264.70,73.04H271.40 M264.70,79.88H271.40 M249.30,108.93H252.10 M252.10,92.70V125.17 M252.10,92.70H261.20 M261.20,86.71V98.68 M261.20,86.71H271.40 M261.20,98.68H263.00 M263.00,93.55V103.81 M263.00,93.55H271.40 M263.00,103.81H265.50 M265.50,100.39V107.23 M265.50,100.39H271.40 M265.50,107.23H271.40 M252.10,125.17H256.90 M256.90,117.48V132.86 M256.90,117.48H259.00 M259.00,114.06V120.90 M259.00,114.06H271.40 M259.00,120.90H271.40 M256.90,132.86H258.80 M258.80,127.74V137.99 M258.80,127.74H271.40 M258.80,137.99H261.70 M261.70,134.57V141.41 M261.70,134.57H271.40 M261.70,141.41H271.40 M238.00,188.90H239.20 M239.20,159.36V218.43 M239.20,159.36H244.20 M244.20,148.25V170.47 M244.20,148.25H271.40 M244.20,170.47H252.30 M252.30,160.21V180.72 M252.30,160.21H262.30 M262.30,155.08V165.34 M262.30,155.08H271.40 M262.30,165.34H266.40 M266.40,161.92V168.76 M266.40,161.92H271.40 M266.40,168.76H271.40 M252.30,180.72H261.60 M261.60,175.60V185.85 M261.60,175.60H271.40 M261.60,185.85H264.70 M264.70,182.43V189.27 M264.70,182.43H271.40 M264.70,189.27H271.40 M239.20,218.43H244.30 M244.30,201.23V235.63 M244.30,201.23H258.40 M258.40,196.11V206.36 M258.40,196.11H271.40 M258.40,206.36H265.70 M265.70,202.94V209.78 M265.70,202.94H271.40 M265.70,209.78H271.40 M244.30,235.63H250.30 M250.30,221.75V249.52 M250.30,221.75H262.40 M262.40,216.62V226.87 M262.40,216.62H271.40 M262.40,226.87H264.50 M264.50,223.45V230.29 M264.50,223.45H271.40 M264.50,230.29H271.40 M250.30,249.52H253.00 M253.00,240.55V258.49 M253.00,240.55H263.30 M263.30,237.13V243.97 M263.30,237.13H271.40 M263.30,243.97H271.40 M253.00,258.49H256.60 M256.60,250.80V266.19 M256.60,250.80H271.40 M256.60,266.19H259.00 M259.00,257.64V274.73 M259.00,257.64H271.40 M259.00,274.73H260.60 M260.60,267.89V281.57 M260.60,267.89H263.90 M263.90,264.48V271.31 M263.90,264.48H271.40 M263.90,271.31H271.40 M260.60,281.57H262.40 M262.40,278.15V284.99 M262.40,278.15H271.40 M262.40,284.99H271.40" stroke="#2e2e2e" stroke-width="1.0" fill="none"/>
<defs><linearGradient id="cbC" x1="0" x2="1" y1="0" y2="0"><stop offset="0" stop-color="#1a68b8"/><stop offset="0.15" stop-color="#1a68b8"/><stop offset="0.28" stop-color="#5073be"/><stop offset="0.38" stop-color="#9aa2d6"/><stop offset="0.47" stop-color="#ffffff"/><stop offset="0.56" stop-color="#ffb4b9"/><stop offset="0.66" stop-color="#fa2832"/><stop offset="0.72" stop-color="#fa0820"/><stop offset="1" stop-color="#fa0820"/></linearGradient><linearGradient id="cbD" x1="0" x2="1" y1="0" y2="0"><stop offset="0" stop-color="#2a58a8"/><stop offset="0.3" stop-color="#6f80c6"/><stop offset="0.56" stop-color="#ffffff"/><stop offset="0.8" stop-color="#f5a08e"/><stop offset="1" stop-color="#e42420"/></linearGradient></defs>
<rect x="327.70" y="291.00" width="95.30" height="6.70" fill="url(#cbC)" stroke="#333" stroke-width="0.8"/>
<text x="339.25" y="307.30" font-size="8.8" text-anchor="middle" textLength="8.10" lengthAdjust="spacingAndGlyphs" stroke="#222" stroke-width="0.12">−2</text>
<text x="356.80" y="307.30" font-size="8.8" text-anchor="middle" textLength="8.00" lengthAdjust="spacingAndGlyphs" stroke="#222" stroke-width="0.12">−1</text>
<text x="374.80" y="307.30" font-size="8.8" text-anchor="middle" textLength="4.60" lengthAdjust="spacingAndGlyphs" stroke="#222" stroke-width="0.12">0</text>
<text x="392.70" y="307.30" font-size="8.8" text-anchor="middle" textLength="3.60" lengthAdjust="spacingAndGlyphs" stroke="#222" stroke-width="0.12">1</text>
<text x="410.60" y="307.30" font-size="8.8" text-anchor="middle" textLength="4.60" lengthAdjust="spacingAndGlyphs" stroke="#222" stroke-width="0.12">2</text>
<text x="0.10" y="327.70" font-size="12.2" font-weight="bold" fill="#000">D</text>
<rect x="21.80" y="357.10" width="62.00" height="82.40" fill="#ffffff"/>
<rect x="22.70" y="358.00" width="8.53" height="8.50" fill="#fc3431"/>
<rect x="33.03" y="358.00" width="8.53" height="8.50" fill="#fc201c"/>
<rect x="43.37" y="358.00" width="8.53" height="8.50" fill="#fc201c"/>
<rect x="53.70" y="358.00" width="8.53" height="8.50" fill="#6a7fbe"/>
<rect x="64.03" y="358.00" width="8.53" height="8.50" fill="#ffffff"/>
<rect x="74.37" y="358.00" width="8.53" height="8.50" fill="#aeb4dc"/>
<rect x="22.70" y="368.30" width="8.53" height="8.50" fill="#fed6d6"/>
<rect x="33.03" y="368.30" width="8.53" height="8.50" fill="#ffefee"/>
<rect x="43.37" y="368.30" width="8.53" height="8.50" fill="#ffffff"/>
<rect x="53.70" y="368.30" width="8.53" height="8.50" fill="#1a68b8"/>
<rect x="64.03" y="368.30" width="8.53" height="8.50" fill="#1a68b8"/>
<rect x="74.37" y="368.30" width="8.53" height="8.50" fill="#1a68b8"/>
<rect x="22.70" y="378.60" width="8.53" height="8.50" fill="#fc3431"/>
<rect x="33.03" y="378.60" width="8.53" height="8.50" fill="#fc3431"/>
<rect x="43.37" y="378.60" width="8.53" height="8.50" fill="#fc201c"/>
<rect x="53.70" y="378.60" width="8.53" height="8.50" fill="#6a7fbe"/>
<rect x="64.03" y="378.60" width="8.53" height="8.50" fill="#eff0f8"/>
<rect x="74.37" y="378.60" width="8.53" height="8.50" fill="#aeb4dc"/>
<rect x="22.70" y="388.90" width="8.53" height="8.50" fill="#ffffff"/>
<rect x="33.03" y="388.90" width="8.53" height="8.50" fill="#d6daee"/>
<rect x="43.37" y="388.90" width="8.53" height="8.50" fill="#ffe7e6"/>
<rect x="53.70" y="388.90" width="8.53" height="8.50" fill="#1a68b8"/>
<rect x="64.03" y="388.90" width="8.53" height="8.50" fill="#4274bb"/>
<rect x="74.37" y="388.90" width="8.53" height="8.50" fill="#4274bb"/>
<rect x="22.70" y="399.20" width="8.53" height="8.50" fill="#ffffff"/>
<rect x="33.03" y="399.20" width="8.53" height="8.50" fill="#aeb4dc"/>
<rect x="43.37" y="399.20" width="8.53" height="8.50" fill="#e7e8f4"/>
<rect x="53.70" y="399.20" width="8.53" height="8.50" fill="#4274bb"/>
<rect x="64.03" y="399.20" width="8.53" height="8.50" fill="#1a68b8"/>
<rect x="74.37" y="399.20" width="8.53" height="8.50" fill="#1a68b8"/>
<rect x="22.70" y="409.50" width="8.53" height="8.50" fill="#4274bb"/>
<rect x="33.03" y="409.50" width="8.53" height="8.50" fill="#6a7fbe"/>
<rect x="43.37" y="409.50" width="8.53" height="8.50" fill="#1a68b8"/>
<rect x="53.70" y="409.50" width="8.53" height="8.50" fill="#6a7fbe"/>
<rect x="64.03" y="409.50" width="8.53" height="8.50" fill="#6a7fbe"/>
<rect x="74.37" y="409.50" width="8.53" height="8.50" fill="#6a7fbe"/>
<rect x="22.70" y="419.80" width="8.53" height="8.50" fill="#aeb4dc"/>
<rect x="33.03" y="419.80" width="8.53" height="8.50" fill="#1a68b8"/>
<rect x="43.37" y="419.80" width="8.53" height="8.50" fill="#6a7fbe"/>
<rect x="53.70" y="419.80" width="8.53" height="8.50" fill="#aeb4dc"/>
<rect x="64.03" y="419.80" width="8.53" height="8.50" fill="#4274bb"/>
<rect x="74.37" y="419.80" width="8.53" height="8.50" fill="#6a7fbe"/>
<rect x="22.70" y="430.10" width="8.53" height="8.50" fill="#bec3e3"/>
<rect x="33.03" y="430.10" width="8.53" height="8.50" fill="#4274bb"/>
<rect x="43.37" y="430.10" width="8.53" height="8.50" fill="#6a7fbe"/>
<rect x="53.70" y="430.10" width="8.53" height="8.50" fill="#aeb4dc"/>
<rect x="64.03" y="430.10" width="8.53" height="8.50" fill="#4274bb"/>
<rect x="74.37" y="430.10" width="8.53" height="8.50" fill="#6a7fbe"/>
<rect x="21.80" y="357.10" width="62.00" height="82.40" fill="none" stroke="#444" stroke-width="1.3"/>
<rect x="151.80" y="357.10" width="62.00" height="82.40" fill="#ffffff"/>
<rect x="152.70" y="358.00" width="8.53" height="8.50" fill="#fed6d6"/>
<rect x="163.03" y="358.00" width="8.53" height="8.50" fill="#fed6d6"/>
<rect x="173.37" y="358.00" width="8.53" height="8.50" fill="#ffefee"/>
<rect x="183.70" y="358.00" width="8.53" height="8.50" fill="#4274bb"/>
<rect x="194.03" y="358.00" width="8.53" height="8.50" fill="#aeb4dc"/>
<rect x="204.37" y="358.00" width="8.53" height="8.50" fill="#4274bb"/>
<rect x="152.70" y="368.30" width="8.53" height="8.50" fill="#fd8583"/>
<rect x="163.03" y="368.30" width="8.53" height="8.50" fill="#febebd"/>
<rect x="173.37" y="368.30" width="8.53" height="8.50" fill="#fc3431"/>
<rect x="183.70" y="368.30" width="8.53" height="8.50" fill="#8c9acd"/>
<rect x="194.03" y="368.30" width="8.53" height="8.50" fill="#a0a9d6"/>
<rect x="204.37" y="368.30" width="8.53" height="8.50" fill="#aeb4dc"/>
<rect x="152.70" y="378.60" width="8.53" height="8.50" fill="#ffefee"/>
<rect x="163.03" y="378.60" width="8.53" height="8.50" fill="#ffe7e6"/>
<rect x="173.37" y="378.60" width="8.53" height="8.50" fill="#ffffff"/>
<rect x="183.70" y="378.60" width="8.53" height="8.50" fill="#4274bb"/>
<rect x="194.03" y="378.60" width="8.53" height="8.50" fill="#aeb4dc"/>
<rect x="204.37" y="378.60" width="8.53" height="8.50" fill="#4274bb"/>
<rect x="152.70" y="388.90" width="8.53" height="8.50" fill="#fed6d6"/>
<rect x="163.03" y="388.90" width="8.53" height="8.50" fill="#fd8583"/>
<rect x="173.37" y="388.90" width="8.53" height="8.50" fill="#fd8583"/>
<rect x="183.70" y="388.90" width="8.53" height="8.50" fill="#4274bb"/>
<rect x="194.03" y="388.90" width="8.53" height="8.50" fill="#4274bb"/>
<rect x="204.37" y="388.90" width="8.53" height="8.50" fill="#4274bb"/>
<rect x="152.70" y="399.20" width="8.53" height="8.50" fill="#febebd"/>
<rect x="163.03" y="399.20" width="8.53" height="8.50" fill="#e7e8f4"/>
<rect x="173.37" y="399.20" width="8.53" height="8.50" fill="#fed6d6"/>
<rect x="183.70" y="399.20" width="8.53" height="8.50" fill="#aeb4dc"/>
<rect x="194.03" y="399.20" width="8.53" height="8.50" fill="#aeb4dc"/>
<rect x="204.37" y="399.20" width="8.53" height="8.50" fill="#8c9acd"/>
<rect x="152.70" y="409.50" width="8.53" height="8.50" fill="#1a68b8"/>
<rect x="163.03" y="409.50" width="8.53" height="8.50" fill="#1a68b8"/>
<rect x="173.37" y="409.50" width="8.53" height="8.50" fill="#1a68b8"/>
<rect x="183.70" y="409.50" width="8.53" height="8.50" fill="#fd5d5a"/>
<rect x="194.03" y="409.50" width="8.53" height="8.50" fill="#fed6d6"/>
<rect x="204.37" y="409.50" width="8.53" height="8.50" fill="#fc201c"/>
<rect x="152.70" y="419.80" width="8.53" height="8.50" fill="#4274bb"/>
<rect x="163.03" y="419.80" width="8.53" height="8.50" fill="#1a68b8"/>
<rect x="173.37" y="419.80" width="8.53" height="8.50" fill="#1a68b8"/>
<rect x="183.70" y="419.80" width="8.53" height="8.50" fill="#fc201c"/>
<rect x="194.03" y="419.80" width="8.53" height="8.50" fill="#6a7fbe"/>
<rect x="204.37" y="419.80" width="8.53" height="8.50" fill="#fed6d6"/>
<rect x="152.70" y="430.10" width="8.53" height="8.50" fill="#4274bb"/>
<rect x="163.03" y="430.10" width="8.53" height="8.50" fill="#1a68b8"/>
<rect x="173.37" y="430.10" width="8.53" height="8.50" fill="#1a68b8"/>
<rect x="183.70" y="430.10" width="8.53" height="8.50" fill="#fc201c"/>
<rect x="194.03" y="430.10" width="8.53" height="8.50" fill="#6a7fbe"/>
<rect x="204.37" y="430.10" width="8.53" height="8.50" fill="#fed6d6"/>
<rect x="151.80" y="357.10" width="62.00" height="82.40" fill="none" stroke="#444" stroke-width="1.3"/>
<rect x="282.00" y="357.10" width="62.00" height="82.40" fill="#ffffff"/>
<rect x="282.90" y="358.00" width="8.53" height="8.50" fill="#ffffff"/>
<rect x="293.23" y="358.00" width="8.53" height="8.50" fill="#fec6c5"/>
<rect x="303.57" y="358.00" width="8.53" height="8.50" fill="#febebd"/>
<rect x="313.90" y="358.00" width="8.53" height="8.50" fill="#1a68b8"/>
<rect x="324.23" y="358.00" width="8.53" height="8.50" fill="#d6daee"/>
<rect x="334.57" y="358.00" width="8.53" height="8.50" fill="#1a68b8"/>
<rect x="282.90" y="368.30" width="8.53" height="8.50" fill="#fc201c"/>
<rect x="293.23" y="368.30" width="8.53" height="8.50" fill="#fd8583"/>
<rect x="303.57" y="368.30" width="8.53" height="8.50" fill="#fc3431"/>
<rect x="313.90" y="368.30" width="8.53" height="8.50" fill="#8c9acd"/>
<rect x="324.23" y="368.30" width="8.53" height="8.50" fill="#d6daee"/>
<rect x="334.57" y="368.30" width="8.53" height="8.50" fill="#aeb4dc"/>
<rect x="282.90" y="378.60" width="8.53" height="8.50" fill="#ffffff"/>
<rect x="293.23" y="378.60" width="8.53" height="8.50" fill="#ffe7e6"/>
<rect x="303.57" y="378.60" width="8.53" height="8.50" fill="#fed6d6"/>
<rect x="313.90" y="378.60" width="8.53" height="8.50" fill="#1a68b8"/>
<rect x="324.23" y="378.60" width="8.53" height="8.50" fill="#aeb4dc"/>
<rect x="334.57" y="378.60" width="8.53" height="8.50" fill="#1a68b8"/>
<rect x="282.90" y="388.90" width="8.53" height="8.50" fill="#fe9e9c"/>
<rect x="293.23" y="388.90" width="8.53" height="8.50" fill="#fd8583"/>
<rect x="303.57" y="388.90" width="8.53" height="8.50" fill="#fc201c"/>
<rect x="313.90" y="388.90" width="8.53" height="8.50" fill="#aeb4dc"/>
<rect x="324.23" y="388.90" width="8.53" height="8.50" fill="#c6cae6"/>
<rect x="334.57" y="388.90" width="8.53" height="8.50" fill="#8c9acd"/>
<rect x="282.90" y="399.20" width="8.53" height="8.50" fill="#fc201c"/>
<rect x="293.23" y="399.20" width="8.53" height="8.50" fill="#fd5d5a"/>
<rect x="303.57" y="399.20" width="8.53" height="8.50" fill="#fc201c"/>
<rect x="313.90" y="399.20" width="8.53" height="8.50" fill="#ffe7e6"/>
<rect x="324.23" y="399.20" width="8.53" height="8.50" fill="#ffefee"/>
<rect x="334.57" y="399.20" width="8.53" height="8.50" fill="#fec6c5"/>
<rect x="282.90" y="409.50" width="8.53" height="8.50" fill="#4274bb"/>
<rect x="293.23" y="409.50" width="8.53" height="8.50" fill="#aeb4dc"/>
<rect x="303.57" y="409.50" width="8.53" height="8.50" fill="#4274bb"/>
<rect x="313.90" y="409.50" width="8.53" height="8.50" fill="#6a7fbe"/>
<rect x="324.23" y="409.50" width="8.53" height="8.50" fill="#6a7fbe"/>
<rect x="334.57" y="409.50" width="8.53" height="8.50" fill="#c6cae6"/>
<rect x="282.90" y="419.80" width="8.53" height="8.50" fill="#ffe7e6"/>
<rect x="293.23" y="419.80" width="8.53" height="8.50" fill="#6a7fbe"/>
<rect x="303.57" y="419.80" width="8.53" height="8.50" fill="#ffffff"/>
<rect x="313.90" y="419.80" width="8.53" height="8.50" fill="#fe9e9c"/>
<rect x="324.23" y="419.80" width="8.53" height="8.50" fill="#6a7fbe"/>
<rect x="334.57" y="419.80" width="8.53" height="8.50" fill="#ffefee"/>
<rect x="282.90" y="430.10" width="8.53" height="8.50" fill="#fec6c5"/>
<rect x="293.23" y="430.10" width="8.53" height="8.50" fill="#d6daee"/>
<rect x="303.57" y="430.10" width="8.53" height="8.50" fill="#ffffff"/>
<rect x="313.90" y="430.10" width="8.53" height="8.50" fill="#fd5d5a"/>
<rect x="324.23" y="430.10" width="8.53" height="8.50" fill="#8c9acd"/>
<rect x="334.57" y="430.10" width="8.53" height="8.50" fill="#fec6c5"/>
<rect x="282.00" y="357.10" width="62.00" height="82.40" fill="none" stroke="#444" stroke-width="1.3"/>
<rect x="84.50" y="357.10" width="21.40" height="10.30" fill="#d7e3f1" stroke="#2e2e2e" stroke-width="0.9"/>
<text x="95.20" y="364.85" font-size="6.4" text-anchor="middle" fill="#2a2a2a" textLength="15.50" lengthAdjust="spacingAndGlyphs" stroke="#2a2a2a" stroke-width="0.15">1.790</text>
<rect x="106.80" y="357.10" width="21.80" height="10.30" fill="#d7e3f1" stroke="#2e2e2e" stroke-width="0.9"/>
<text x="117.70" y="364.85" font-size="6.4" text-anchor="middle" fill="#2a2a2a" textLength="19.50" lengthAdjust="spacingAndGlyphs" stroke="#2a2a2a" stroke-width="0.15">&lt;0.001</text>
<rect x="129.50" y="357.10" width="21.80" height="10.30" fill="#d7e3f1" stroke="#2e2e2e" stroke-width="0.9"/>
<text x="140.40" y="364.85" font-size="6.4" text-anchor="middle" fill="#2a2a2a" textLength="19.50" lengthAdjust="spacingAndGlyphs" stroke="#2a2a2a" stroke-width="0.15">&lt;0.001</text>
<rect x="84.50" y="367.40" width="21.40" height="10.30" fill="#d7e3f1" stroke="#2e2e2e" stroke-width="0.9"/>
<text x="95.20" y="375.15" font-size="6.4" text-anchor="middle" fill="#2a2a2a" textLength="15.50" lengthAdjust="spacingAndGlyphs" stroke="#2a2a2a" stroke-width="0.15">1.731</text>
<rect x="106.80" y="367.40" width="21.80" height="10.30" fill="#d7e3f1" stroke="#2e2e2e" stroke-width="0.9"/>
<text x="117.70" y="375.15" font-size="6.4" text-anchor="middle" fill="#2a2a2a" textLength="19.50" lengthAdjust="spacingAndGlyphs" stroke="#2a2a2a" stroke-width="0.15">&lt;0.001</text>
<rect x="129.50" y="367.40" width="21.80" height="10.30" fill="#d7e3f1" stroke="#2e2e2e" stroke-width="0.9"/>
<text x="140.40" y="375.15" font-size="6.4" text-anchor="middle" fill="#2a2a2a" textLength="15.50" lengthAdjust="spacingAndGlyphs" stroke="#2a2a2a" stroke-width="0.15">0.002</text>
<rect x="84.50" y="377.70" width="21.40" height="10.30" fill="#d7e3f1" stroke="#2e2e2e" stroke-width="0.9"/>
<text x="95.20" y="385.45" font-size="6.4" text-anchor="middle" fill="#2a2a2a" textLength="15.50" lengthAdjust="spacingAndGlyphs" stroke="#2a2a2a" stroke-width="0.15">1.704</text>
<rect x="106.80" y="377.70" width="21.80" height="10.30" fill="#d7e3f1" stroke="#2e2e2e" stroke-width="0.9"/>
<text x="117.70" y="385.45" font-size="6.4" text-anchor="middle" fill="#2a2a2a" textLength="19.50" lengthAdjust="spacingAndGlyphs" stroke="#2a2a2a" stroke-width="0.15">&lt;0.001</text>
<rect x="129.50" y="377.70" width="21.80" height="10.30" fill="#d7e3f1" stroke="#2e2e2e" stroke-width="0.9"/>
<text x="140.40" y="385.45" font-size="6.4" text-anchor="middle" fill="#2a2a2a" textLength="15.50" lengthAdjust="spacingAndGlyphs" stroke="#2a2a2a" stroke-width="0.15">0.004</text>
<rect x="84.50" y="388.00" width="21.40" height="10.30" fill="#d7e3f1" stroke="#2e2e2e" stroke-width="0.9"/>
<text x="95.20" y="395.75" font-size="6.4" text-anchor="middle" fill="#2a2a2a" textLength="15.50" lengthAdjust="spacingAndGlyphs" stroke="#2a2a2a" stroke-width="0.15">1.491</text>
<rect x="106.80" y="388.00" width="21.80" height="10.30" fill="#d7e3f1" stroke="#2e2e2e" stroke-width="0.9"/>
<text x="117.70" y="395.75" font-size="6.4" text-anchor="middle" fill="#2a2a2a" textLength="15.50" lengthAdjust="spacingAndGlyphs" stroke="#2a2a2a" stroke-width="0.15">0.007</text>
<rect x="129.50" y="388.00" width="21.80" height="10.30" fill="#d7e3f1" stroke="#2e2e2e" stroke-width="0.9"/>
<text x="140.40" y="395.75" font-size="6.4" text-anchor="middle" fill="#2a2a2a" textLength="15.50" lengthAdjust="spacingAndGlyphs" stroke="#2a2a2a" stroke-width="0.15">0.052</text>
<rect x="84.50" y="398.30" width="21.40" height="10.30" fill="#d7e3f1" stroke="#2e2e2e" stroke-width="0.9"/>
<text x="95.20" y="406.05" font-size="6.4" text-anchor="middle" fill="#2a2a2a" textLength="15.50" lengthAdjust="spacingAndGlyphs" stroke="#2a2a2a" stroke-width="0.15">1.543</text>
<rect x="106.80" y="398.30" width="21.80" height="10.30" fill="#d7e3f1" stroke="#2e2e2e" stroke-width="0.9"/>
<text x="117.70" y="406.05" font-size="6.4" text-anchor="middle" fill="#2a2a2a" textLength="15.50" lengthAdjust="spacingAndGlyphs" stroke="#2a2a2a" stroke-width="0.15">0.005</text>
<rect x="129.50" y="398.30" width="21.80" height="10.30" fill="#d7e3f1" stroke="#2e2e2e" stroke-width="0.9"/>
<text x="140.40" y="406.05" font-size="6.4" text-anchor="middle" fill="#2a2a2a" textLength="15.50" lengthAdjust="spacingAndGlyphs" stroke="#2a2a2a" stroke-width="0.15">0.035</text>
<rect x="84.50" y="408.60" width="21.40" height="10.30" fill="#ffffff" stroke="#2e2e2e" stroke-width="0.9"/>
<text x="95.20" y="416.35" font-size="6.4" text-anchor="middle" fill="#2a2a2a" textLength="19.20" lengthAdjust="spacingAndGlyphs" stroke="#2a2a2a" stroke-width="0.15">−1.023</text>
<rect x="106.80" y="408.60" width="21.80" height="10.30" fill="#ffffff" stroke="#2e2e2e" stroke-width="0.9"/>
<text x="117.70" y="416.35" font-size="6.4" text-anchor="middle" fill="#2a2a2a" textLength="15.50" lengthAdjust="spacingAndGlyphs" stroke="#2a2a2a" stroke-width="0.15">0.406</text>
<rect x="129.50" y="408.60" width="21.80" height="10.30" fill="#ffffff" stroke="#2e2e2e" stroke-width="0.9"/>
<text x="140.40" y="416.35" font-size="6.4" text-anchor="middle" fill="#2a2a2a" textLength="15.50" lengthAdjust="spacingAndGlyphs" stroke="#2a2a2a" stroke-width="0.15">0.692</text>
<rect x="84.50" y="418.90" width="21.40" height="10.30" fill="#ffffff" stroke="#2e2e2e" stroke-width="0.9"/>
<text x="95.20" y="426.65" font-size="6.4" text-anchor="middle" fill="#2a2a2a" textLength="15.50" lengthAdjust="spacingAndGlyphs" stroke="#2a2a2a" stroke-width="0.15">0.767</text>
<rect x="106.80" y="418.90" width="21.80" height="10.30" fill="#ffffff" stroke="#2e2e2e" stroke-width="0.9"/>
<text x="117.70" y="426.65" font-size="6.4" text-anchor="middle" fill="#2a2a2a" textLength="15.50" lengthAdjust="spacingAndGlyphs" stroke="#2a2a2a" stroke-width="0.15">0.899</text>
<rect x="129.50" y="418.90" width="21.80" height="10.30" fill="#ffffff" stroke="#2e2e2e" stroke-width="0.9"/>
<text x="140.40" y="426.65" font-size="6.4" text-anchor="middle" fill="#2a2a2a" textLength="15.50" lengthAdjust="spacingAndGlyphs" stroke="#2a2a2a" stroke-width="0.15">1.000</text>
<rect x="84.50" y="429.20" width="21.40" height="10.30" fill="#ffffff" stroke="#2e2e2e" stroke-width="0.9"/>
<text x="95.20" y="436.95" font-size="6.4" text-anchor="middle" fill="#2a2a2a" textLength="15.50" lengthAdjust="spacingAndGlyphs" stroke="#2a2a2a" stroke-width="0.15">1.790</text>
<rect x="106.80" y="429.20" width="21.80" height="10.30" fill="#ffffff" stroke="#2e2e2e" stroke-width="0.9"/>
<text x="117.70" y="436.95" font-size="6.4" text-anchor="middle" fill="#2a2a2a" textLength="15.50" lengthAdjust="spacingAndGlyphs" stroke="#2a2a2a" stroke-width="0.15">0.577</text>
<rect x="129.50" y="429.20" width="21.80" height="10.30" fill="#ffffff" stroke="#2e2e2e" stroke-width="0.9"/>
<text x="140.40" y="436.95" font-size="6.4" text-anchor="middle" fill="#2a2a2a" textLength="15.50" lengthAdjust="spacingAndGlyphs" stroke="#2a2a2a" stroke-width="0.15">1.000</text>
<rect x="215.20" y="357.10" width="21.40" height="10.30" fill="#d7e3f1" stroke="#2e2e2e" stroke-width="0.9"/>
<text x="225.90" y="364.85" font-size="6.4" text-anchor="middle" fill="#2a2a2a" textLength="15.50" lengthAdjust="spacingAndGlyphs" stroke="#2a2a2a" stroke-width="0.15">1.544</text>
<rect x="237.50" y="357.10" width="21.80" height="10.30" fill="#d7e3f1" stroke="#2e2e2e" stroke-width="0.9"/>
<text x="248.40" y="364.85" font-size="6.4" text-anchor="middle" fill="#2a2a2a" textLength="19.50" lengthAdjust="spacingAndGlyphs" stroke="#2a2a2a" stroke-width="0.15">&lt;0.001</text>
<rect x="260.20" y="357.10" width="21.80" height="10.30" fill="#d7e3f1" stroke="#2e2e2e" stroke-width="0.9"/>
<text x="271.10" y="364.85" font-size="6.4" text-anchor="middle" fill="#2a2a2a" textLength="15.50" lengthAdjust="spacingAndGlyphs" stroke="#2a2a2a" stroke-width="0.15">0.047</text>
<rect x="215.20" y="367.40" width="21.40" height="10.30" fill="#ffffff" stroke="#2e2e2e" stroke-width="0.9"/>
<text x="225.90" y="375.15" font-size="6.4" text-anchor="middle" fill="#2a2a2a" textLength="15.50" lengthAdjust="spacingAndGlyphs" stroke="#2a2a2a" stroke-width="0.15">1.362</text>
<rect x="237.50" y="367.40" width="21.80" height="10.30" fill="#ffffff" stroke="#2e2e2e" stroke-width="0.9"/>
<text x="248.40" y="375.15" font-size="6.4" text-anchor="middle" fill="#2a2a2a" textLength="15.50" lengthAdjust="spacingAndGlyphs" stroke="#2a2a2a" stroke-width="0.15">0.018</text>
<rect x="260.20" y="367.40" width="21.80" height="10.30" fill="#ffffff" stroke="#2e2e2e" stroke-width="0.9"/>
<text x="271.10" y="375.15" font-size="6.4" text-anchor="middle" fill="#2a2a2a" textLength="15.50" lengthAdjust="spacingAndGlyphs" stroke="#2a2a2a" stroke-width="0.15">0.164</text>
<rect x="215.20" y="377.70" width="21.40" height="10.30" fill="#d7e3f1" stroke="#2e2e2e" stroke-width="0.9"/>
<text x="225.90" y="385.45" font-size="6.4" text-anchor="middle" fill="#2a2a2a" textLength="15.50" lengthAdjust="spacingAndGlyphs" stroke="#2a2a2a" stroke-width="0.15">1.757</text>
<rect x="237.50" y="377.70" width="21.80" height="10.30" fill="#d7e3f1" stroke="#2e2e2e" stroke-width="0.9"/>
<text x="248.40" y="385.45" font-size="6.4" text-anchor="middle" fill="#2a2a2a" textLength="19.50" lengthAdjust="spacingAndGlyphs" stroke="#2a2a2a" stroke-width="0.15">&lt;0.001</text>
<rect x="260.20" y="377.70" width="21.80" height="10.30" fill="#d7e3f1" stroke="#2e2e2e" stroke-width="0.9"/>
<text x="271.10" y="385.45" font-size="6.4" text-anchor="middle" fill="#2a2a2a" textLength="15.50" lengthAdjust="spacingAndGlyphs" stroke="#2a2a2a" stroke-width="0.15">0.002</text>
<rect x="215.20" y="388.00" width="21.40" height="10.30" fill="#d7e3f1" stroke="#2e2e2e" stroke-width="0.9"/>
<text x="225.90" y="395.75" font-size="6.4" text-anchor="middle" fill="#2a2a2a" textLength="15.50" lengthAdjust="spacingAndGlyphs" stroke="#2a2a2a" stroke-width="0.15">1.722</text>
<rect x="237.50" y="388.00" width="21.80" height="10.30" fill="#d7e3f1" stroke="#2e2e2e" stroke-width="0.9"/>
<text x="248.40" y="395.75" font-size="6.4" text-anchor="middle" fill="#2a2a2a" textLength="19.50" lengthAdjust="spacingAndGlyphs" stroke="#2a2a2a" stroke-width="0.15">&lt;0.001</text>
<rect x="260.20" y="388.00" width="21.80" height="10.30" fill="#d7e3f1" stroke="#2e2e2e" stroke-width="0.9"/>
<text x="271.10" y="395.75" font-size="6.4" text-anchor="middle" fill="#2a2a2a" textLength="15.50" lengthAdjust="spacingAndGlyphs" stroke="#2a2a2a" stroke-width="0.15">0.002</text>
<rect x="215.20" y="398.30" width="21.40" height="10.30" fill="#ffffff" stroke="#2e2e2e" stroke-width="0.9"/>
<text x="225.90" y="406.05" font-size="6.4" text-anchor="middle" fill="#2a2a2a" textLength="15.50" lengthAdjust="spacingAndGlyphs" stroke="#2a2a2a" stroke-width="0.15">1.397</text>
<rect x="237.50" y="398.30" width="21.80" height="10.30" fill="#ffffff" stroke="#2e2e2e" stroke-width="0.9"/>
<text x="248.40" y="406.05" font-size="6.4" text-anchor="middle" fill="#2a2a2a" textLength="15.50" lengthAdjust="spacingAndGlyphs" stroke="#2a2a2a" stroke-width="0.15">0.037</text>
<rect x="260.20" y="398.30" width="21.80" height="10.30" fill="#ffffff" stroke="#2e2e2e" stroke-width="0.9"/>
<text x="271.10" y="406.05" font-size="6.4" text-anchor="middle" fill="#2a2a2a" textLength="15.50" lengthAdjust="spacingAndGlyphs" stroke="#2a2a2a" stroke-width="0.15">0.174</text>
<rect x="215.20" y="408.60" width="21.40" height="10.30" fill="#d7e3f1" stroke="#2e2e2e" stroke-width="0.9"/>
<text x="225.90" y="416.35" font-size="6.4" text-anchor="middle" fill="#2a2a2a" textLength="19.20" lengthAdjust="spacingAndGlyphs" stroke="#2a2a2a" stroke-width="0.15">−1.604</text>
<rect x="237.50" y="408.60" width="21.80" height="10.30" fill="#d7e3f1" stroke="#2e2e2e" stroke-width="0.9"/>
<text x="248.40" y="416.35" font-size="6.4" text-anchor="middle" fill="#2a2a2a" textLength="15.50" lengthAdjust="spacingAndGlyphs" stroke="#2a2a2a" stroke-width="0.15">0.005</text>
<rect x="260.20" y="408.60" width="21.80" height="10.30" fill="#d7e3f1" stroke="#2e2e2e" stroke-width="0.9"/>
<text x="271.10" y="416.35" font-size="6.4" text-anchor="middle" fill="#2a2a2a" textLength="15.50" lengthAdjust="spacingAndGlyphs" stroke="#2a2a2a" stroke-width="0.15">0.024</text>
<rect x="215.20" y="418.90" width="21.40" height="10.30" fill="#d7e3f1" stroke="#2e2e2e" stroke-width="0.9"/>
<text x="225.90" y="426.65" font-size="6.4" text-anchor="middle" fill="#2a2a2a" textLength="19.20" lengthAdjust="spacingAndGlyphs" stroke="#2a2a2a" stroke-width="0.15">−1.995</text>
<rect x="237.50" y="418.90" width="21.80" height="10.30" fill="#d7e3f1" stroke="#2e2e2e" stroke-width="0.9"/>
<text x="248.40" y="426.65" font-size="6.4" text-anchor="middle" fill="#2a2a2a" textLength="19.50" lengthAdjust="spacingAndGlyphs" stroke="#2a2a2a" stroke-width="0.15">&lt;0.001</text>
<rect x="260.20" y="418.90" width="21.80" height="10.30" fill="#d7e3f1" stroke="#2e2e2e" stroke-width="0.9"/>
<text x="271.10" y="426.65" font-size="6.4" text-anchor="middle" fill="#2a2a2a" textLength="19.50" lengthAdjust="spacingAndGlyphs" stroke="#2a2a2a" stroke-width="0.15">&lt;0.001</text>
<rect x="215.20" y="429.20" width="21.40" height="10.30" fill="#d7e3f1" stroke="#2e2e2e" stroke-width="0.9"/>
<text x="225.90" y="436.95" font-size="6.4" text-anchor="middle" fill="#2a2a2a" textLength="19.20" lengthAdjust="spacingAndGlyphs" stroke="#2a2a2a" stroke-width="0.15">−1.622</text>
<rect x="237.50" y="429.20" width="21.80" height="10.30" fill="#d7e3f1" stroke="#2e2e2e" stroke-width="0.9"/>
<text x="248.40" y="436.95" font-size="6.4" text-anchor="middle" fill="#2a2a2a" textLength="19.50" lengthAdjust="spacingAndGlyphs" stroke="#2a2a2a" stroke-width="0.15">&lt;0.001</text>
<rect x="260.20" y="429.20" width="21.80" height="10.30" fill="#d7e3f1" stroke="#2e2e2e" stroke-width="0.9"/>
<text x="271.10" y="436.95" font-size="6.4" text-anchor="middle" fill="#2a2a2a" textLength="15.50" lengthAdjust="spacingAndGlyphs" stroke="#2a2a2a" stroke-width="0.15">0.029</text>
<rect x="345.80" y="357.10" width="21.40" height="10.30" fill="#d7e3f1" stroke="#2e2e2e" stroke-width="0.9"/>
<text x="356.50" y="364.85" font-size="6.4" text-anchor="middle" fill="#2a2a2a" textLength="15.50" lengthAdjust="spacingAndGlyphs" stroke="#2a2a2a" stroke-width="0.15">1.727</text>
<rect x="368.10" y="357.10" width="21.80" height="10.30" fill="#d7e3f1" stroke="#2e2e2e" stroke-width="0.9"/>
<text x="379.00" y="364.85" font-size="6.4" text-anchor="middle" fill="#2a2a2a" textLength="19.50" lengthAdjust="spacingAndGlyphs" stroke="#2a2a2a" stroke-width="0.15">&lt;0.001</text>
<rect x="390.80" y="357.10" width="21.80" height="10.30" fill="#d7e3f1" stroke="#2e2e2e" stroke-width="0.9"/>
<text x="401.70" y="364.85" font-size="6.4" text-anchor="middle" fill="#2a2a2a" textLength="15.50" lengthAdjust="spacingAndGlyphs" stroke="#2a2a2a" stroke-width="0.15">0.010</text>
<rect x="345.80" y="367.40" width="21.40" height="10.30" fill="#ffffff" stroke="#2e2e2e" stroke-width="0.9"/>
<text x="356.50" y="375.15" font-size="6.4" text-anchor="middle" fill="#2a2a2a" textLength="15.50" lengthAdjust="spacingAndGlyphs" stroke="#2a2a2a" stroke-width="0.15">1.208</text>
<rect x="368.10" y="367.40" width="21.80" height="10.30" fill="#ffffff" stroke="#2e2e2e" stroke-width="0.9"/>
<text x="379.00" y="375.15" font-size="6.4" text-anchor="middle" fill="#2a2a2a" textLength="15.50" lengthAdjust="spacingAndGlyphs" stroke="#2a2a2a" stroke-width="0.15">0.112</text>
<rect x="390.80" y="367.40" width="21.80" height="10.30" fill="#ffffff" stroke="#2e2e2e" stroke-width="0.9"/>
<text x="401.70" y="375.15" font-size="6.4" text-anchor="middle" fill="#2a2a2a" textLength="15.50" lengthAdjust="spacingAndGlyphs" stroke="#2a2a2a" stroke-width="0.15">0.621</text>
<rect x="345.80" y="377.70" width="21.40" height="10.30" fill="#d7e3f1" stroke="#2e2e2e" stroke-width="0.9"/>
<text x="356.50" y="385.45" font-size="6.4" text-anchor="middle" fill="#2a2a2a" textLength="15.50" lengthAdjust="spacingAndGlyphs" stroke="#2a2a2a" stroke-width="0.15">1.667</text>
<rect x="368.10" y="377.70" width="21.80" height="10.30" fill="#d7e3f1" stroke="#2e2e2e" stroke-width="0.9"/>
<text x="379.00" y="385.45" font-size="6.4" text-anchor="middle" fill="#2a2a2a" textLength="15.50" lengthAdjust="spacingAndGlyphs" stroke="#2a2a2a" stroke-width="0.15">0.001</text>
<rect x="390.80" y="377.70" width="21.80" height="10.30" fill="#d7e3f1" stroke="#2e2e2e" stroke-width="0.9"/>
<text x="401.70" y="385.45" font-size="6.4" text-anchor="middle" fill="#2a2a2a" textLength="15.50" lengthAdjust="spacingAndGlyphs" stroke="#2a2a2a" stroke-width="0.15">0.013</text>
<rect x="345.80" y="388.00" width="21.40" height="10.30" fill="#ffffff" stroke="#2e2e2e" stroke-width="0.9"/>
<text x="356.50" y="395.75" font-size="6.4" text-anchor="middle" fill="#2a2a2a" textLength="15.50" lengthAdjust="spacingAndGlyphs" stroke="#2a2a2a" stroke-width="0.15">1.084</text>
<rect x="368.10" y="388.00" width="21.80" height="10.30" fill="#ffffff" stroke="#2e2e2e" stroke-width="0.9"/>
<text x="379.00" y="395.75" font-size="6.4" text-anchor="middle" fill="#2a2a2a" textLength="15.50" lengthAdjust="spacingAndGlyphs" stroke="#2a2a2a" stroke-width="0.15">0.320</text>
<rect x="390.80" y="388.00" width="21.80" height="10.30" fill="#ffffff" stroke="#2e2e2e" stroke-width="0.9"/>
<text x="401.70" y="395.75" font-size="6.4" text-anchor="middle" fill="#2a2a2a" textLength="15.50" lengthAdjust="spacingAndGlyphs" stroke="#2a2a2a" stroke-width="0.15">0.739</text>
<rect x="345.80" y="398.30" width="21.40" height="10.30" fill="#ffffff" stroke="#2e2e2e" stroke-width="0.9"/>
<text x="356.50" y="406.05" font-size="6.4" text-anchor="middle" fill="#2a2a2a" textLength="15.50" lengthAdjust="spacingAndGlyphs" stroke="#2a2a2a" stroke-width="0.15">1.138</text>
<rect x="368.10" y="398.30" width="21.80" height="10.30" fill="#ffffff" stroke="#2e2e2e" stroke-width="0.9"/>
<text x="379.00" y="406.05" font-size="6.4" text-anchor="middle" fill="#2a2a2a" textLength="15.50" lengthAdjust="spacingAndGlyphs" stroke="#2a2a2a" stroke-width="0.15">0.258</text>
<rect x="390.80" y="398.30" width="21.80" height="10.30" fill="#ffffff" stroke="#2e2e2e" stroke-width="0.9"/>
<text x="401.70" y="406.05" font-size="6.4" text-anchor="middle" fill="#2a2a2a" textLength="15.50" lengthAdjust="spacingAndGlyphs" stroke="#2a2a2a" stroke-width="0.15">0.656</text>
<rect x="345.80" y="408.60" width="21.40" height="10.30" fill="#ffffff" stroke="#2e2e2e" stroke-width="0.9"/>
<text x="356.50" y="416.35" font-size="6.4" text-anchor="middle" fill="#2a2a2a" textLength="19.20" lengthAdjust="spacingAndGlyphs" stroke="#2a2a2a" stroke-width="0.15">−1.028</text>
<rect x="368.10" y="408.60" width="21.80" height="10.30" fill="#ffffff" stroke="#2e2e2e" stroke-width="0.9"/>
<text x="379.00" y="416.35" font-size="6.4" text-anchor="middle" fill="#2a2a2a" textLength="15.50" lengthAdjust="spacingAndGlyphs" stroke="#2a2a2a" stroke-width="0.15">0.361</text>
<rect x="390.80" y="408.60" width="21.80" height="10.30" fill="#ffffff" stroke="#2e2e2e" stroke-width="0.9"/>
<text x="401.70" y="416.35" font-size="6.4" text-anchor="middle" fill="#2a2a2a" textLength="15.50" lengthAdjust="spacingAndGlyphs" stroke="#2a2a2a" stroke-width="0.15">1.000</text>
<rect x="345.80" y="418.90" width="21.40" height="10.30" fill="#ffffff" stroke="#2e2e2e" stroke-width="0.9"/>
<text x="356.50" y="426.65" font-size="6.4" text-anchor="middle" fill="#2a2a2a" textLength="15.50" lengthAdjust="spacingAndGlyphs" stroke="#2a2a2a" stroke-width="0.15">0.748</text>
<rect x="368.10" y="418.90" width="21.80" height="10.30" fill="#ffffff" stroke="#2e2e2e" stroke-width="0.9"/>
<text x="379.00" y="426.65" font-size="6.4" text-anchor="middle" fill="#2a2a2a" textLength="15.50" lengthAdjust="spacingAndGlyphs" stroke="#2a2a2a" stroke-width="0.15">0.913</text>
<rect x="390.80" y="418.90" width="21.80" height="10.30" fill="#ffffff" stroke="#2e2e2e" stroke-width="0.9"/>
<text x="401.70" y="426.65" font-size="6.4" text-anchor="middle" fill="#2a2a2a" textLength="15.50" lengthAdjust="spacingAndGlyphs" stroke="#2a2a2a" stroke-width="0.15">1.000</text>
<rect x="345.80" y="429.20" width="21.40" height="10.30" fill="#ffffff" stroke="#2e2e2e" stroke-width="0.9"/>
<text x="356.50" y="436.95" font-size="6.4" text-anchor="middle" fill="#2a2a2a" textLength="15.50" lengthAdjust="spacingAndGlyphs" stroke="#2a2a2a" stroke-width="0.15">0.986</text>
<rect x="368.10" y="429.20" width="21.80" height="10.30" fill="#ffffff" stroke="#2e2e2e" stroke-width="0.9"/>
<text x="379.00" y="436.95" font-size="6.4" text-anchor="middle" fill="#2a2a2a" textLength="15.50" lengthAdjust="spacingAndGlyphs" stroke="#2a2a2a" stroke-width="0.15">0.495</text>
<rect x="390.80" y="429.20" width="21.80" height="10.30" fill="#ffffff" stroke="#2e2e2e" stroke-width="0.9"/>
<text x="401.70" y="436.95" font-size="6.4" text-anchor="middle" fill="#2a2a2a" textLength="15.50" lengthAdjust="spacingAndGlyphs" stroke="#2a2a2a" stroke-width="0.15">0.847</text>
<text x="415.90" y="364.35" font-size="8.2" textLength="59.30" lengthAdjust="spacingAndGlyphs" stroke="#222" stroke-width="0.12">G2/M checkpoint</text>
<text x="415.90" y="374.65" font-size="8.2" textLength="50.20" lengthAdjust="spacingAndGlyphs" stroke="#222" stroke-width="0.12">Apical junction</text>
<text x="415.90" y="384.95" font-size="8.2" textLength="38.90" lengthAdjust="spacingAndGlyphs" stroke="#222" stroke-width="0.12">E2F targets</text>
<text x="415.90" y="395.25" font-size="8.2" textLength="41.10" lengthAdjust="spacingAndGlyphs" stroke="#222" stroke-width="0.12">Coagulation</text>
<text x="415.90" y="405.55" font-size="8.2" textLength="85.10" lengthAdjust="spacingAndGlyphs" stroke="#222" stroke-width="0.12">IL-6-JAK-STAT3 signaling</text>
<text x="415.90" y="415.85" font-size="8.2" textLength="77.00" lengthAdjust="spacingAndGlyphs" stroke="#222" stroke-width="0.12">KRAS signaling (down)</text>
<text x="415.90" y="426.15" font-size="8.2" textLength="52.30" lengthAdjust="spacingAndGlyphs" stroke="#222" stroke-width="0.12">IFN-α response</text>
<text x="415.90" y="436.45" font-size="8.2" textLength="50.80" lengthAdjust="spacingAndGlyphs" stroke="#222" stroke-width="0.12">IFN-γ response</text>
<text x="53.10" y="337.80" font-size="10.0" text-anchor="middle" textLength="31.90" lengthAdjust="spacingAndGlyphs" stroke="#222" stroke-width="0.12">Unstim.</text>
<line x1="22.70" y1="341.00" x2="82.00" y2="341.00" stroke="#555" stroke-width="1.3"/>
<text x="117.70" y="337.80" font-size="10.0" text-anchor="middle" textLength="29.60" lengthAdjust="spacingAndGlyphs" stroke="#222" stroke-width="0.12">EV/WT</text>
<line x1="84.80" y1="341.00" x2="150.50" y2="341.00" stroke="#555" stroke-width="1.3"/>
<text x="181.80" y="337.80" font-size="10.0" text-anchor="middle" textLength="10.80" lengthAdjust="spacingAndGlyphs" stroke="#222" stroke-width="0.12">P/I</text>
<line x1="153.20" y1="341.00" x2="214.20" y2="341.00" stroke="#555" stroke-width="1.3"/>
<text x="247.70" y="337.80" font-size="10.0" text-anchor="middle" textLength="29.60" lengthAdjust="spacingAndGlyphs" stroke="#222" stroke-width="0.12">EV/WT</text>
<line x1="216.00" y1="341.00" x2="280.50" y2="341.00" stroke="#555" stroke-width="1.3"/>
<text x="310.70" y="337.80" font-size="10.0" text-anchor="middle" textLength="19.40" lengthAdjust="spacingAndGlyphs" stroke="#222" stroke-width="0.12">IL-1β</text>
<line x1="282.70" y1="341.00" x2="344.00" y2="341.00" stroke="#555" stroke-width="1.3"/>
<text x="375.80" y="337.80" font-size="10.0" text-anchor="middle" textLength="29.60" lengthAdjust="spacingAndGlyphs" stroke="#222" stroke-width="0.12">EV/WT</text>
<line x1="346.30" y1="341.00" x2="411.50" y2="341.00" stroke="#555" stroke-width="1.3"/>
<line x1="22.70" y1="354.80" x2="52.20" y2="354.80" stroke="#555" stroke-width="1.3"/>
<line x1="54.30" y1="354.80" x2="82.50" y2="354.80" stroke="#555" stroke-width="1.3"/>
<text x="37.60" y="351.60" font-size="9.4" text-anchor="middle" textLength="9.20" lengthAdjust="spacingAndGlyphs" stroke="#222" stroke-width="0.12">EV</text>
<text x="68.20" y="351.60" font-size="9.4" text-anchor="middle" textLength="12.10" lengthAdjust="spacingAndGlyphs" stroke="#222" stroke-width="0.12">WT</text>
<line x1="153.20" y1="354.80" x2="182.70" y2="354.80" stroke="#555" stroke-width="1.3"/>
<line x1="184.80" y1="354.80" x2="213.00" y2="354.80" stroke="#555" stroke-width="1.3"/>
<text x="168.10" y="351.60" font-size="9.4" text-anchor="middle" textLength="9.20" lengthAdjust="spacingAndGlyphs" stroke="#222" stroke-width="0.12">EV</text>
<text x="198.70" y="351.60" font-size="9.4" text-anchor="middle" textLength="12.10" lengthAdjust="spacingAndGlyphs" stroke="#222" stroke-width="0.12">WT</text>
<line x1="282.70" y1="354.80" x2="312.20" y2="354.80" stroke="#555" stroke-width="1.3"/>
<line x1="314.30" y1="354.80" x2="342.50" y2="354.80" stroke="#555" stroke-width="1.3"/>
<text x="297.60" y="351.60" font-size="9.4" text-anchor="middle" textLength="9.20" lengthAdjust="spacingAndGlyphs" stroke="#222" stroke-width="0.12">EV</text>
<text x="328.20" y="351.60" font-size="9.4" text-anchor="middle" textLength="12.10" lengthAdjust="spacingAndGlyphs" stroke="#222" stroke-width="0.12">WT</text>
<line x1="84.80" y1="354.80" x2="105.60" y2="354.80" stroke="#555" stroke-width="1.3"/>
<text x="95.20" y="351.60" font-size="9.2" text-anchor="middle" textLength="15.40" lengthAdjust="spacingAndGlyphs" stroke="#222" stroke-width="0.12">NES</text>
<line x1="107.50" y1="354.80" x2="127.10" y2="354.80" stroke="#555" stroke-width="1.3"/>
<text x="117.30" y="351.60" font-size="8.2" text-anchor="middle" textLength="4.40" lengthAdjust="spacingAndGlyphs" stroke="#222" stroke-width="0.12">p</text>
<line x1="129.00" y1="354.80" x2="150.00" y2="354.80" stroke="#555" stroke-width="1.3"/>
<text x="139.50" y="351.60" font-size="8.2" text-anchor="middle" textLength="4.40" lengthAdjust="spacingAndGlyphs" stroke="#222" stroke-width="0.12">q</text>
<line x1="216.00" y1="354.80" x2="236.80" y2="354.80" stroke="#555" stroke-width="1.3"/>
<text x="226.40" y="351.60" font-size="9.2" text-anchor="middle" textLength="15.40" lengthAdjust="spacingAndGlyphs" stroke="#222" stroke-width="0.12">NES</text>
<line x1="238.70" y1="354.80" x2="258.30" y2="354.80" stroke="#555" stroke-width="1.3"/>
<text x="248.50" y="351.60" font-size="8.2" text-anchor="middle" textLength="4.40" lengthAdjust="spacingAndGlyphs" stroke="#222" stroke-width="0.12">p</text>
<line x1="260.20" y1="354.80" x2="281.20" y2="354.80" stroke="#555" stroke-width="1.3"/>
<text x="270.70" y="351.60" font-size="8.2" text-anchor="middle" textLength="4.40" lengthAdjust="spacingAndGlyphs" stroke="#222" stroke-width="0.12">q</text>
<line x1="346.30" y1="354.80" x2="367.10" y2="354.80" stroke="#555" stroke-width="1.3"/>
<text x="356.70" y="351.60" font-size="9.2" text-anchor="middle" textLength="15.40" lengthAdjust="spacingAndGlyphs" stroke="#222" stroke-width="0.12">NES</text>
<line x1="369.00" y1="354.80" x2="388.60" y2="354.80" stroke="#555" stroke-width="1.3"/>
<text x="378.80" y="351.60" font-size="8.2" text-anchor="middle" textLength="4.40" lengthAdjust="spacingAndGlyphs" stroke="#222" stroke-width="0.12">p</text>
<line x1="390.50" y1="354.80" x2="411.50" y2="354.80" stroke="#555" stroke-width="1.3"/>
<text x="401.00" y="351.60" font-size="8.2" text-anchor="middle" textLength="4.40" lengthAdjust="spacingAndGlyphs" stroke="#222" stroke-width="0.12">q</text>
<rect x="154.80" y="445.00" width="123.90" height="6.70" fill="url(#cbD)" stroke="#333" stroke-width="0.8"/>
<text x="151.40" y="451.20" font-size="8.2" text-anchor="end" textLength="13.00" lengthAdjust="spacingAndGlyphs" stroke="#222" stroke-width="0.12">Min</text>
<text x="282.00" y="451.20" font-size="8.2" textLength="14.60" lengthAdjust="spacingAndGlyphs" stroke="#222" stroke-width="0.12">Max</text>
<text x="2.20" y="476.70" font-size="12.2" font-weight="bold" fill="#000">E</text>
<line x1="61.90" y1="483.20" x2="61.90" y2="592.20" stroke="#444" stroke-width="1.3"/>
<line x1="61.30" y1="591.60" x2="219.50" y2="591.60" stroke="#444" stroke-width="1.3"/>
<line x1="58.90" y1="591.60" x2="61.90" y2="591.60" stroke="#444" stroke-width="1.0"/>
<text x="55.90" y="594.60" font-size="9.0" text-anchor="end" fill="#2a2a2a" textLength="4.30" lengthAdjust="spacingAndGlyphs" stroke="#2a2a2a" stroke-width="0.12">0</text>
<line x1="58.90" y1="565.55" x2="61.90" y2="565.55" stroke="#444" stroke-width="1.0"/>
<text x="55.90" y="568.55" font-size="9.0" text-anchor="end" fill="#2a2a2a" textLength="8.60" lengthAdjust="spacingAndGlyphs" stroke="#2a2a2a" stroke-width="0.12">10</text>
<line x1="58.90" y1="539.50" x2="61.90" y2="539.50" stroke="#444" stroke-width="1.0"/>
<text x="55.90" y="542.50" font-size="9.0" text-anchor="end" fill="#2a2a2a" textLength="8.60" lengthAdjust="spacingAndGlyphs" stroke="#2a2a2a" stroke-width="0.12">20</text>
<line x1="58.90" y1="513.45" x2="61.90" y2="513.45" stroke="#444" stroke-width="1.0"/>
<text x="55.90" y="516.45" font-size="9.0" text-anchor="end" fill="#2a2a2a" textLength="8.60" lengthAdjust="spacingAndGlyphs" stroke="#2a2a2a" stroke-width="0.12">30</text>
<line x1="58.90" y1="487.40" x2="61.90" y2="487.40" stroke="#444" stroke-width="1.0"/>
<text x="55.90" y="490.40" font-size="9.0" text-anchor="end" fill="#2a2a2a" textLength="8.60" lengthAdjust="spacingAndGlyphs" stroke="#2a2a2a" stroke-width="0.12">40</text>
<line x1="72.90" y1="591.60" x2="72.90" y2="594.60" stroke="#444" stroke-width="1.0"/>
<text x="72.90" y="603.80" font-size="9.0" text-anchor="middle" fill="#2a2a2a" textLength="4.40" lengthAdjust="spacingAndGlyphs" stroke="#2a2a2a" stroke-width="0.12">0</text>
<line x1="95.30" y1="591.60" x2="95.30" y2="594.60" stroke="#444" stroke-width="1.0"/>
<text x="95.30" y="603.80" font-size="9.0" text-anchor="middle" fill="#2a2a2a" textLength="4.40" lengthAdjust="spacingAndGlyphs" stroke="#2a2a2a" stroke-width="0.12">2</text>
<line x1="117.70" y1="591.60" x2="117.70" y2="594.60" stroke="#444" stroke-width="1.0"/>
<text x="117.70" y="603.80" font-size="9.0" text-anchor="middle" fill="#2a2a2a" textLength="4.40" lengthAdjust="spacingAndGlyphs" stroke="#2a2a2a" stroke-width="0.12">4</text>
<line x1="140.10" y1="591.60" x2="140.10" y2="594.60" stroke="#444" stroke-width="1.0"/>
<text x="140.10" y="603.80" font-size="9.0" text-anchor="middle" fill="#2a2a2a" textLength="4.40" lengthAdjust="spacingAndGlyphs" stroke="#2a2a2a" stroke-width="0.12">6</text>
<line x1="162.50" y1="591.60" x2="162.50" y2="594.60" stroke="#444" stroke-width="1.0"/>
<text x="162.50" y="603.80" font-size="9.0" text-anchor="middle" fill="#2a2a2a" textLength="4.40" lengthAdjust="spacingAndGlyphs" stroke="#2a2a2a" stroke-width="0.12">8</text>
<line x1="184.90" y1="591.60" x2="184.90" y2="594.60" stroke="#444" stroke-width="1.0"/>
<text x="184.90" y="603.80" font-size="9.0" text-anchor="middle" fill="#2a2a2a" textLength="8.80" lengthAdjust="spacingAndGlyphs" stroke="#2a2a2a" stroke-width="0.12">10</text>
<line x1="207.30" y1="591.60" x2="207.30" y2="594.60" stroke="#444" stroke-width="1.0"/>
<text x="207.30" y="603.80" font-size="9.0" text-anchor="middle" fill="#2a2a2a" textLength="8.80" lengthAdjust="spacingAndGlyphs" stroke="#2a2a2a" stroke-width="0.12">12</text>
<text x="140.60" y="616.50" font-size="9.4" text-anchor="middle" fill="#333" textLength="72.60" lengthAdjust="spacingAndGlyphs" stroke="#333" stroke-width="0.12">P/I stimulation (days)</text>
<text x="29.40" y="534.10" font-size="9.8" text-anchor="middle" fill="#333" textLength="36.80" lengthAdjust="spacingAndGlyphs" transform="rotate(-90 29.40 534.10)" stroke="#333" stroke-width="0.12">% Cell death</text>
<text x="40.00" y="537.95" font-size="9.8" text-anchor="middle" fill="#333" textLength="104.30" lengthAdjust="spacingAndGlyphs" transform="rotate(-90 40.00 537.95)" stroke="#333" stroke-width="0.12">(LDH release/max LDH release)</text>
<line x1="72.90" y1="571.02" x2="72.90" y2="559.56" stroke="#222" stroke-width="1.1"/>
<line x1="70.70" y1="571.02" x2="75.10" y2="571.02" stroke="#222" stroke-width="1.1"/>
<line x1="70.70" y1="559.56" x2="75.10" y2="559.56" stroke="#222" stroke-width="1.1"/>
<line x1="95.30" y1="542.11" x2="95.30" y2="534.81" stroke="#222" stroke-width="1.1"/>
<line x1="93.10" y1="542.11" x2="97.50" y2="542.11" stroke="#222" stroke-width="1.1"/>
<line x1="93.10" y1="534.81" x2="97.50" y2="534.81" stroke="#222" stroke-width="1.1"/>
<line x1="117.70" y1="559.04" x2="117.70" y2="550.44" stroke="#222" stroke-width="1.1"/>
<line x1="115.50" y1="559.04" x2="119.90" y2="559.04" stroke="#222" stroke-width="1.1"/>
<line x1="115.50" y1="550.44" x2="119.90" y2="550.44" stroke="#222" stroke-width="1.1"/>
<line x1="162.50" y1="532.21" x2="162.50" y2="519.70" stroke="#222" stroke-width="1.1"/>
<line x1="160.30" y1="532.21" x2="164.70" y2="532.21" stroke="#222" stroke-width="1.1"/>
<line x1="160.30" y1="519.70" x2="164.70" y2="519.70" stroke="#222" stroke-width="1.1"/>
<line x1="184.90" y1="528.30" x2="184.90" y2="517.62" stroke="#222" stroke-width="1.1"/>
<line x1="182.70" y1="528.30" x2="187.10" y2="528.30" stroke="#222" stroke-width="1.1"/>
<line x1="182.70" y1="517.62" x2="187.10" y2="517.62" stroke="#222" stroke-width="1.1"/>
<line x1="184.90" y1="554.61" x2="184.90" y2="547.58" stroke="#222" stroke-width="1.1"/>
<line x1="182.70" y1="554.61" x2="187.10" y2="554.61" stroke="#222" stroke-width="1.1"/>
<line x1="182.70" y1="547.58" x2="187.10" y2="547.58" stroke="#222" stroke-width="1.1"/>
<polyline points="72.90,560.60 95.30,538.20 117.70,554.61 140.10,557.21 162.50,553.83 184.90,551.22 207.30,545.49" fill="none" stroke="#d91a52" stroke-width="1.9"/>
<polyline points="72.90,565.55 95.30,538.72 117.70,543.41 140.10,542.37 162.50,525.95 184.90,523.09 207.30,506.42" fill="none" stroke="#1b6896" stroke-width="1.9"/>
<path d="M72.90,557.70L75.80,560.60L72.90,563.50L70.00,560.60Z" fill="#d91a52"/>
<path d="M95.30,535.30L98.20,538.20L95.30,541.10L92.40,538.20Z" fill="#d91a52"/>
<path d="M117.70,551.71L120.60,554.61L117.70,557.51L114.80,554.61Z" fill="#d91a52"/>
<path d="M140.10,554.31L143.00,557.21L140.10,560.11L137.20,557.21Z" fill="#d91a52"/>
<path d="M162.50,550.93L165.40,553.83L162.50,556.73L159.60,553.83Z" fill="#d91a52"/>
<path d="M184.90,548.32L187.80,551.22L184.90,554.12L182.00,551.22Z" fill="#d91a52"/>
<path d="M207.30,542.59L210.20,545.49L207.30,548.39L204.40,545.49Z" fill="#d91a52"/>
<path d="M72.90,562.65L75.80,565.55L72.90,568.45L70.00,565.55Z" fill="#1b6896"/>
<path d="M95.30,535.82L98.20,538.72L95.30,541.62L92.40,538.72Z" fill="#1b6896"/>
<path d="M117.70,540.51L120.60,543.41L117.70,546.31L114.80,543.41Z" fill="#1b6896"/>
<path d="M140.10,539.47L143.00,542.37L140.10,545.27L137.20,542.37Z" fill="#1b6896"/>
<path d="M162.50,523.05L165.40,525.95L162.50,528.85L159.60,525.95Z" fill="#1b6896"/>
<path d="M184.90,520.19L187.80,523.09L184.90,525.99L182.00,523.09Z" fill="#1b6896"/>
<path d="M207.30,503.52L210.20,506.42L207.30,509.32L204.40,506.42Z" fill="#1b6896"/>
<text x="140.10" y="539.60" font-size="10.0" text-anchor="middle" textLength="3.60" lengthAdjust="spacingAndGlyphs" stroke="#222" stroke-width="0.12">*</text>
<text x="162.50" y="521.40" font-size="10.0" text-anchor="middle" textLength="10.80" lengthAdjust="spacingAndGlyphs" stroke="#222" stroke-width="0.12">***</text>
<text x="184.90" y="519.50" font-size="10.0" text-anchor="middle" textLength="10.80" lengthAdjust="spacingAndGlyphs" stroke="#222" stroke-width="0.12">***</text>
<text x="207.30" y="505.40" font-size="10.0" text-anchor="middle" textLength="10.80" lengthAdjust="spacingAndGlyphs" stroke="#222" stroke-width="0.12">***</text>
<path d="M195.40,568.20L198.00,570.80L195.40,573.40L192.80,570.80Z" fill="#e0124c"/>
<path d="M195.40,578.90L198.00,581.50L195.40,584.10L192.80,581.50Z" fill="#1a5a82"/>
<text x="200.80" y="573.90" font-size="8.4" fill="#333" textLength="8.80" lengthAdjust="spacingAndGlyphs" stroke="#333" stroke-width="0.12">EV</text>
<text x="200.80" y="584.10" font-size="8.4" fill="#333" textLength="10.70" lengthAdjust="spacingAndGlyphs" stroke="#333" stroke-width="0.12">WT</text>
<text x="285.10" y="476.70" font-size="12.2" font-weight="bold" fill="#000">F</text>
<line x1="349.00" y1="483.50" x2="349.00" y2="511.40" stroke="#444" stroke-width="1.3"/>
<line x1="349.00" y1="518.70" x2="349.00" y2="592.20" stroke="#444" stroke-width="1.3"/>
<line x1="348.40" y1="591.60" x2="472.50" y2="591.60" stroke="#444" stroke-width="1.3"/>
<line x1="345.10" y1="487.70" x2="349.00" y2="487.70" stroke="#444" stroke-width="1.0"/>
<text x="342.60" y="490.70" font-size="9.0" text-anchor="end" fill="#2a2a2a" textLength="21.50" lengthAdjust="spacingAndGlyphs" stroke="#2a2a2a" stroke-width="0.12">50000</text>
<line x1="345.10" y1="511.00" x2="349.00" y2="511.00" stroke="#444" stroke-width="1.0"/>
<text x="342.60" y="514.00" font-size="9.0" text-anchor="end" fill="#2a2a2a" textLength="21.50" lengthAdjust="spacingAndGlyphs" stroke="#2a2a2a" stroke-width="0.12">25000</text>
<line x1="345.10" y1="518.70" x2="349.00" y2="518.70" stroke="#444" stroke-width="1.0"/>
<text x="342.60" y="521.70" font-size="9.0" text-anchor="end" fill="#2a2a2a" textLength="21.50" lengthAdjust="spacingAndGlyphs" stroke="#2a2a2a" stroke-width="0.12">15000</text>
<line x1="345.10" y1="543.00" x2="349.00" y2="543.00" stroke="#444" stroke-width="1.0"/>
<text x="342.60" y="546.00" font-size="9.0" text-anchor="end" fill="#2a2a2a" textLength="21.50" lengthAdjust="spacingAndGlyphs" stroke="#2a2a2a" stroke-width="0.12">10000</text>
<line x1="345.10" y1="567.30" x2="349.00" y2="567.30" stroke="#444" stroke-width="1.0"/>
<text x="342.60" y="570.30" font-size="9.0" text-anchor="end" fill="#2a2a2a" textLength="17.20" lengthAdjust="spacingAndGlyphs" stroke="#2a2a2a" stroke-width="0.12">5000</text>
<line x1="345.10" y1="591.60" x2="349.00" y2="591.60" stroke="#444" stroke-width="1.0"/>
<text x="342.60" y="594.60" font-size="9.0" text-anchor="end" fill="#2a2a2a" textLength="4.30" lengthAdjust="spacingAndGlyphs" stroke="#2a2a2a" stroke-width="0.12">0</text>
<line x1="371.40" y1="591.60" x2="371.40" y2="594.60" stroke="#444" stroke-width="1.0"/>
<text x="371.40" y="604.30" font-size="9.2" text-anchor="middle" fill="#333" textLength="27.20" lengthAdjust="spacingAndGlyphs" stroke="#333" stroke-width="0.12">Unstim.</text>
<line x1="414.20" y1="591.60" x2="414.20" y2="594.60" stroke="#444" stroke-width="1.0"/>
<text x="414.20" y="604.30" font-size="9.2" text-anchor="middle" fill="#333" textLength="9.30" lengthAdjust="spacingAndGlyphs" stroke="#333" stroke-width="0.12">P/I</text>
<line x1="456.70" y1="591.60" x2="456.70" y2="594.60" stroke="#444" stroke-width="1.0"/>
<text x="456.70" y="604.30" font-size="9.2" text-anchor="middle" fill="#333" textLength="16.80" lengthAdjust="spacingAndGlyphs" stroke="#333" stroke-width="0.12">IL-1β</text>
<text x="314.30" y="536.40" font-size="10.2" text-anchor="middle" fill="#333" textLength="41.20" lengthAdjust="spacingAndGlyphs" transform="rotate(-90 314.30 536.40)" stroke="#333" stroke-width="0.12">IL-6 (pg/mL)</text>
<path d="M362.40,581.00L365.00,583.60L362.40,586.20L359.80,583.60Z" fill="#e0124c"/>
<path d="M364.70,580.60L367.30,583.20L364.70,585.80L362.10,583.20Z" fill="#e0124c"/>
<path d="M366.90,581.00L369.50,583.60L366.90,586.20L364.30,583.60Z" fill="#e0124c"/>
<path d="M375.80,586.00L378.40,588.60L375.80,591.20L373.20,588.60Z" fill="#1a6a96"/>
<path d="M378.10,585.70L380.70,588.30L378.10,590.90L375.50,588.30Z" fill="#1a6a96"/>
<path d="M380.40,586.00L383.00,588.60L380.40,591.20L377.80,588.60Z" fill="#1a6a96"/>
<line x1="364.30" y1="577.80" x2="377.80" y2="577.80" stroke="#333" stroke-width="1.0"/>
<text x="371.00" y="578.20" font-size="9.0" text-anchor="middle" textLength="9.50" lengthAdjust="spacingAndGlyphs" stroke="#222" stroke-width="0.12">***</text>
<path d="M405.00,533.50L407.30,535.80L405.00,538.10L402.70,535.80Z" fill="#e0124c"/>
<path d="M409.20,538.20L411.50,540.50L409.20,542.80L406.90,540.50Z" fill="#e0124c"/>
<path d="M405.50,542.50L407.80,544.80L405.50,547.10L403.20,544.80Z" fill="#e0124c"/>
<line x1="403.20" y1="540.10" x2="408.40" y2="540.10" stroke="#222" stroke-width="1.0"/>
<path d="M418.80,575.90L421.50,578.60L418.80,581.30L416.10,578.60Z" fill="#1a6a96"/>
<path d="M420.90,574.90L423.60,577.60L420.90,580.30L418.20,577.60Z" fill="#1a6a96"/>
<path d="M423.00,575.90L425.70,578.60L423.00,581.30L420.30,578.60Z" fill="#1a6a96"/>
<line x1="407.40" y1="529.60" x2="420.70" y2="529.60" stroke="#333" stroke-width="1.0"/>
<text x="413.90" y="529.80" font-size="9.0" text-anchor="middle" stroke="#222" stroke-width="0.12">*</text>
<path d="M448.30,495.50L451.10,498.30L448.30,501.10L445.50,498.30Z" fill="#e0124c"/>
<path d="M450.30,494.10L453.10,496.90L450.30,499.70L447.50,496.90Z" fill="#e0124c"/>
<path d="M452.30,495.50L455.10,498.30L452.30,501.10L449.50,498.30Z" fill="#e0124c"/>
<path d="M461.70,494.40L464.50,497.20L461.70,500.00L458.90,497.20Z" fill="#1a6a96"/>
<path d="M463.70,493.00L466.50,495.80L463.70,498.60L460.90,495.80Z" fill="#1a6a96"/>
<path d="M465.70,494.40L468.50,497.20L465.70,500.00L462.90,497.20Z" fill="#1a6a96"/>
<line x1="449.80" y1="489.50" x2="463.90" y2="489.50" stroke="#333" stroke-width="1.0"/>
<text x="456.90" y="486.20" font-size="8.4" text-anchor="middle" textLength="10.10" lengthAdjust="spacingAndGlyphs" stroke="#222" stroke-width="0.12">NS</text>
<path d="M485.00,484.20L487.60,486.80L485.00,489.40L482.40,486.80Z" fill="#e0124c"/>
<path d="M485.00,495.20L487.60,497.80L485.00,500.40L482.40,497.80Z" fill="#1a6a96"/>
<text x="490.50" y="489.80" font-size="8.4" fill="#333" textLength="8.80" lengthAdjust="spacingAndGlyphs" stroke="#333" stroke-width="0.12">EV</text>
<text x="490.50" y="500.30" font-size="8.4" fill="#333" textLength="10.70" lengthAdjust="spacingAndGlyphs" stroke="#333" stroke-width="0.12">WT</text>
</svg>
</body></html>
